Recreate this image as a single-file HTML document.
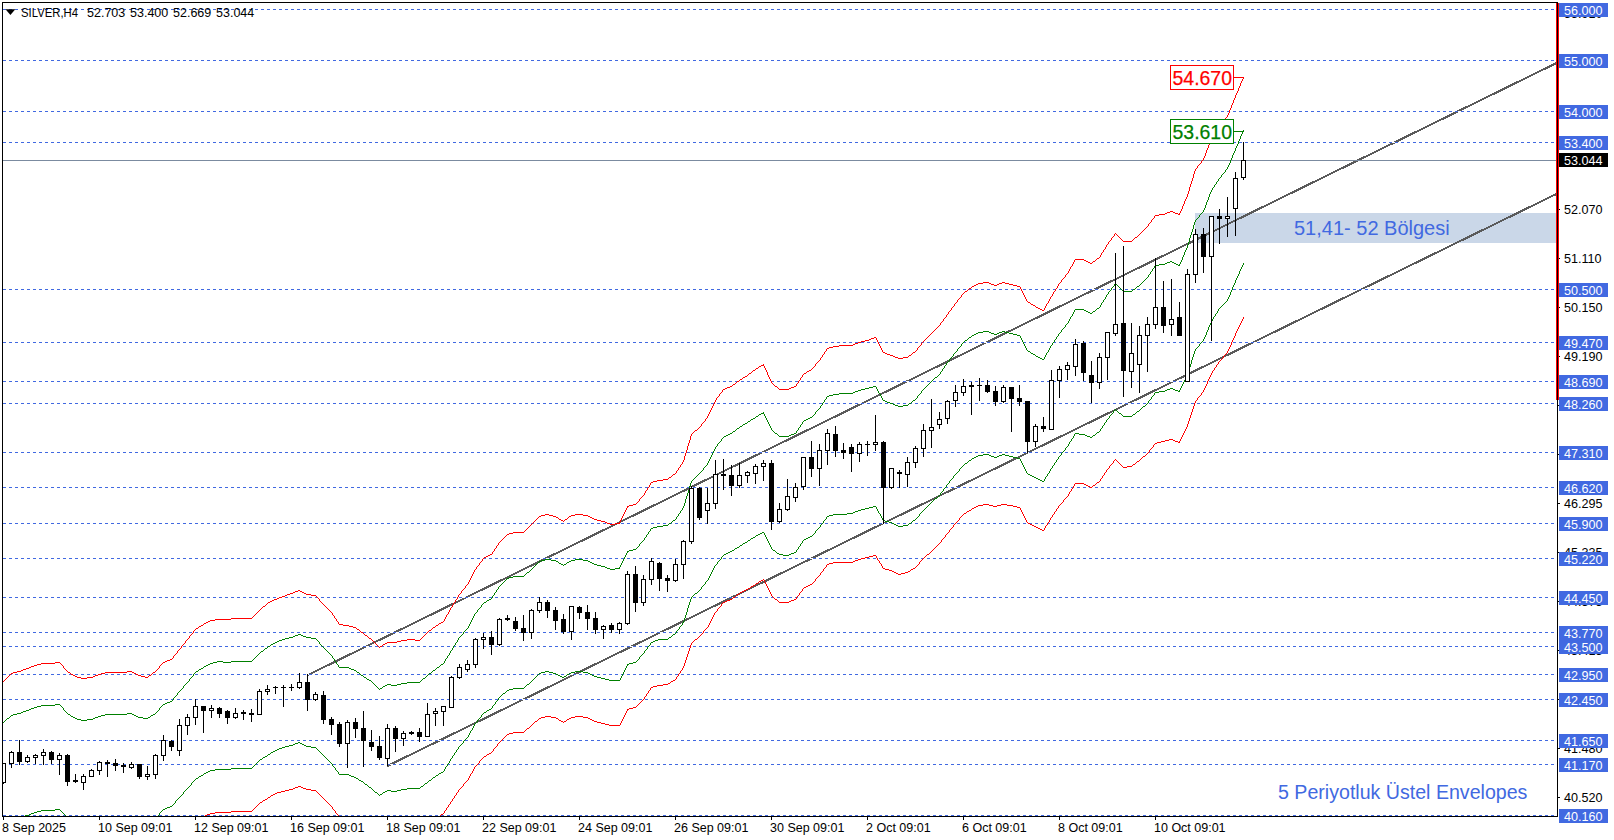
<!DOCTYPE html><html><head><meta charset="utf-8"><style>html,body{margin:0;padding:0;background:#fff;width:1614px;height:840px;overflow:hidden}svg{display:block}text{font-family:'Liberation Sans', sans-serif}</style></head><body>
<svg width="1614" height="840" viewBox="0 0 1614 840">
<defs><clipPath id="cl"><rect x="3" y="3" width="1554" height="813"/></clipPath></defs>
<rect x="0" y="0" width="1614" height="840" fill="#fff"/>
<g clip-path="url(#cl)">
<rect x="1195" y="213" width="362" height="30" fill="#cad7e8"/>
<line x1="307.9" y1="675" x2="1560" y2="61.3" stroke="#5a5a5a" stroke-width="2" shape-rendering="crispEdges"/>
<line x1="387.1" y1="766.1" x2="1560" y2="192.2" stroke="#5a5a5a" stroke-width="2" shape-rendering="crispEdges"/>
<g fill="none" stroke="#fff" stroke-width="1" shape-rendering="crispEdges">
<line x1="3" y1="9.5" x2="1557" y2="9.5"/>
<line x1="3" y1="60.5" x2="1557" y2="60.5"/>
<line x1="3" y1="111.5" x2="1557" y2="111.5"/>
<line x1="3" y1="142.5" x2="1557" y2="142.5"/>
<line x1="3" y1="289.5" x2="1557" y2="289.5"/>
<line x1="3" y1="342.5" x2="1557" y2="342.5"/>
<line x1="3" y1="381.5" x2="1557" y2="381.5"/>
<line x1="3" y1="403.5" x2="1557" y2="403.5"/>
<line x1="3" y1="452.5" x2="1557" y2="452.5"/>
<line x1="3" y1="487.5" x2="1557" y2="487.5"/>
<line x1="3" y1="523.5" x2="1557" y2="523.5"/>
<line x1="3" y1="558.5" x2="1557" y2="558.5"/>
<line x1="3" y1="597.5" x2="1557" y2="597.5"/>
<line x1="3" y1="632.5" x2="1557" y2="632.5"/>
<line x1="3" y1="646.5" x2="1557" y2="646.5"/>
<line x1="3" y1="674.5" x2="1557" y2="674.5"/>
<line x1="3" y1="699.5" x2="1557" y2="699.5"/>
<line x1="3" y1="740.5" x2="1557" y2="740.5"/>
<line x1="3" y1="764.5" x2="1557" y2="764.5"/>
<line x1="3" y1="815.5" x2="1557" y2="815.5"/>
</g>
<g fill="none" stroke="#4169e1" stroke-width="1" stroke-dasharray="3 3" shape-rendering="crispEdges">
<line x1="3" y1="9.5" x2="1557" y2="9.5"/>
<line x1="3" y1="60.5" x2="1557" y2="60.5"/>
<line x1="3" y1="111.5" x2="1557" y2="111.5"/>
<line x1="3" y1="142.5" x2="1557" y2="142.5"/>
<line x1="3" y1="289.5" x2="1557" y2="289.5"/>
<line x1="3" y1="342.5" x2="1557" y2="342.5"/>
<line x1="3" y1="381.5" x2="1557" y2="381.5"/>
<line x1="3" y1="403.5" x2="1557" y2="403.5"/>
<line x1="3" y1="452.5" x2="1557" y2="452.5"/>
<line x1="3" y1="487.5" x2="1557" y2="487.5"/>
<line x1="3" y1="523.5" x2="1557" y2="523.5"/>
<line x1="3" y1="558.5" x2="1557" y2="558.5"/>
<line x1="3" y1="597.5" x2="1557" y2="597.5"/>
<line x1="3" y1="632.5" x2="1557" y2="632.5"/>
<line x1="3" y1="646.5" x2="1557" y2="646.5"/>
<line x1="3" y1="674.5" x2="1557" y2="674.5"/>
<line x1="3" y1="699.5" x2="1557" y2="699.5"/>
<line x1="3" y1="740.5" x2="1557" y2="740.5"/>
<line x1="3" y1="764.5" x2="1557" y2="764.5"/>
<line x1="3" y1="815.5" x2="1557" y2="815.5"/>
</g>
<line x1="3" y1="160.5" x2="1557" y2="160.5" stroke="#7b8ba0" stroke-width="1" shape-rendering="crispEdges"/>
<path d="M3 681h1v1h-1zM4 680h1v1h-1zM5 679h1v1h-1zM6 678h1v1h-1zM7 677h1v1h-1zM8 676h1v1h-1zM9 675h1v1h-1zM10 674h1v1h-1zM11 673h2v1h-2zM13 672h4v1h-4zM17 671h4v1h-4zM21 670h2v1h-2zM23 669h3v1h-3zM26 668h3v1h-3zM29 667h2v1h-2zM31 666h3v1h-3zM34 665h3v1h-3zM37 664h4v1h-4zM41 663h14v1h-14zM55 662h5v1h-5zM60 663h1v1h-1zM61 664h1v1h-1zM62 665h1v1h-1zM63 666h1v2h-1zM64 668h1v1h-1zM65 669h1v1h-1zM66 670h1v1h-1zM67 671h1v1h-1zM68 672h2v1h-2zM70 673h1v1h-1zM71 674h2v1h-2zM73 675h2v1h-2zM75 676h2v1h-2zM77 677h4v1h-4zM81 678h6v1h-6zM87 677h6v1h-6zM93 676h2v1h-2zM95 675h3v1h-3zM98 674h3v1h-3zM101 673h4v1h-4zM105 672h22v1h-22zM127 671h5v1h-5zM132 672h2v1h-2zM134 673h2v1h-2zM136 674h2v1h-2zM138 675h3v1h-3zM141 676h4v1h-4zM145 677h3v1h-3zM148 676h1v1h-1zM149 675h2v1h-2zM151 674h1v1h-1zM152 673h1v1h-1zM153 672h2v1h-2zM155 671h1v1h-1zM156 670h1v1h-1zM157 669h1v1h-1zM158 668h1v1h-1zM159 666h1v2h-1zM160 665h1v1h-1zM161 664h1v1h-1zM162 663h1v1h-1zM163 662h2v1h-2zM165 661h2v1h-2zM167 660h3v1h-3zM170 659h2v1h-2zM172 658h1v1h-1zM173 656h1v2h-1zM174 655h1v1h-1zM175 654h1v1h-1zM176 653h1v1h-1zM177 651h1v2h-1zM178 650h1v1h-1zM179 649h1v1h-1zM180 648h1v1h-1zM181 646h1v2h-1zM182 645h1v1h-1zM183 644h1v1h-1zM184 643h1v1h-1zM185 641h1v2h-1zM186 640h1v1h-1zM187 639h1v1h-1zM188 638h1v1h-1zM189 636h1v2h-1zM190 635h1v1h-1zM191 634h1v1h-1zM192 633h1v1h-1zM193 631h1v2h-1zM194 630h1v1h-1zM195 629h1v1h-1zM196 628h2v1h-2zM198 627h1v1h-1zM199 626h2v1h-2zM201 625h2v1h-2zM203 624h1v1h-1zM204 623h2v1h-2zM206 622h2v1h-2zM208 621h2v1h-2zM210 620h5v1h-5zM215 619h16v1h-16zM231 618h21v1h-21zM252 617h1v1h-1zM253 616h1v1h-1zM254 615h1v1h-1zM255 614h1v1h-1zM256 613h1v1h-1zM257 612h1v1h-1zM258 611h1v1h-1zM259 610h1v1h-1zM260 609h1v1h-1zM261 608h1v1h-1zM262 607h1v1h-1zM263 606h2v1h-2zM265 605h1v1h-1zM266 604h1v1h-1zM267 603h1v1h-1zM268 602h2v1h-2zM270 601h2v1h-2zM272 600h2v1h-2zM274 599h3v1h-3zM277 598h2v1h-2zM279 597h3v1h-3zM282 596h3v1h-3zM285 595h2v1h-2zM287 594h3v1h-3zM290 593h3v1h-3zM293 592h2v1h-2zM295 591h3v1h-3zM298 590h2v1h-2zM300 591h2v1h-2zM302 592h2v1h-2zM304 593h2v1h-2zM306 594h5v1h-5zM311 595h5v1h-5zM316 596h1v1h-1zM317 597h1v1h-1zM318 598h1v1h-1zM319 599h1v2h-1zM320 601h1v1h-1zM321 602h1v1h-1zM322 603h1v1h-1zM323 604h1v1h-1zM324 605h1v1h-1zM325 606h1v1h-1zM326 607h1v1h-1zM327 608h1v1h-1zM328 609h1v1h-1zM329 610h1v1h-1zM330 611h1v1h-1zM331 612h1v1h-1zM332 613h1v2h-1zM333 615h1v1h-1zM334 616h1v2h-1zM335 618h1v1h-1zM336 619h1v2h-1zM337 621h1v1h-1zM338 622h1v2h-1zM339 624h4v1h-4zM343 625h6v1h-6zM349 626h4v1h-4zM353 627h3v1h-3zM356 628h1v1h-1zM357 629h2v1h-2zM359 630h1v1h-1zM360 631h1v1h-1zM361 632h2v1h-2zM363 633h1v1h-1zM364 634h1v1h-1zM365 635h2v1h-2zM367 636h1v1h-1zM368 637h1v1h-1zM369 638h2v1h-2zM371 639h1v1h-1zM372 640h1v1h-1zM373 641h1v1h-1zM374 642h1v1h-1zM375 643h1v1h-1zM376 644h1v1h-1zM377 645h1v1h-1zM378 646h1v1h-1zM379 647h1v1h-1zM380 646h2v1h-2zM382 645h1v1h-1zM383 644h2v1h-2zM385 643h2v1h-2zM387 642h10v1h-10zM397 641h4v1h-4zM401 640h6v1h-6zM407 639h8v1h-8zM415 640h5v1h-5zM420 639h1v1h-1zM421 638h1v1h-1zM422 637h1v1h-1zM423 636h1v1h-1zM424 635h1v1h-1zM425 634h1v1h-1zM426 633h1v1h-1zM427 632h1v1h-1zM428 631h1v1h-1zM429 630h2v1h-2zM431 629h1v1h-1zM432 628h1v1h-1zM433 627h2v1h-2zM435 626h1v1h-1zM436 625h2v1h-2zM438 624h1v1h-1zM439 623h2v1h-2zM441 622h2v1h-2zM443 621h1v1h-1zM444 619h1v2h-1zM445 617h1v2h-1zM446 615h1v2h-1zM447 614h1v1h-1zM448 612h1v2h-1zM449 610h1v2h-1zM450 608h1v2h-1zM451 607h1v1h-1zM452 605h1v2h-1zM453 603h1v2h-1zM454 602h1v1h-1zM455 600h1v2h-1zM456 599h1v1h-1zM457 597h1v2h-1zM458 595h1v2h-1zM459 594h1v1h-1zM460 593h1v1h-1zM461 591h1v2h-1zM462 590h1v1h-1zM463 589h1v1h-1zM464 588h1v1h-1zM465 586h1v2h-1zM466 585h1v1h-1zM467 584h1v1h-1zM468 582h1v2h-1zM469 580h1v2h-1zM470 578h1v2h-1zM471 576h1v2h-1zM472 574h1v2h-1zM473 572h1v2h-1zM474 570h1v2h-1zM475 569h1v1h-1zM476 567h1v2h-1zM477 566h1v1h-1zM478 565h1v1h-1zM479 563h1v2h-1zM480 562h1v1h-1zM481 561h1v1h-1zM482 559h1v2h-1zM483 558h1v1h-1zM484 557h2v1h-2zM486 556h2v1h-2zM488 555h2v1h-2zM490 554h2v1h-2zM492 552h1v2h-1zM493 551h1v1h-1zM494 549h1v2h-1zM495 548h1v1h-1zM496 546h1v2h-1zM497 545h1v1h-1zM498 543h1v2h-1zM499 542h1v1h-1zM500 541h1v1h-1zM501 540h1v1h-1zM502 539h1v1h-1zM503 538h1v1h-1zM504 537h1v1h-1zM505 536h1v1h-1zM506 535h1v1h-1zM507 534h2v1h-2zM509 533h4v1h-4zM513 532h11v1h-11zM524 531h1v1h-1zM525 530h1v1h-1zM526 529h1v1h-1zM527 528h1v1h-1zM528 527h1v1h-1zM529 526h1v1h-1zM530 525h1v1h-1zM531 524h1v1h-1zM532 523h1v1h-1zM533 522h1v1h-1zM534 521h1v1h-1zM535 520h1v1h-1zM536 519h1v1h-1zM537 518h1v1h-1zM538 517h1v1h-1zM539 516h2v1h-2zM541 515h4v1h-4zM545 514h4v1h-4zM549 515h4v1h-4zM553 516h3v1h-3zM556 517h2v1h-2zM558 518h1v1h-1zM559 519h2v1h-2zM561 520h2v1h-2zM563 521h1v1h-1zM564 520h1v1h-1zM565 519h2v1h-2zM567 518h1v1h-1zM568 517h1v1h-1zM569 516h2v1h-2zM571 515h4v1h-4zM575 514h8v1h-8zM583 515h5v1h-5zM588 516h2v1h-2zM590 517h2v1h-2zM592 518h2v1h-2zM594 519h3v1h-3zM597 520h4v1h-4zM601 521h4v1h-4zM605 522h2v1h-2zM607 523h3v1h-3zM610 524h5v1h-5zM615 523h4v1h-4zM619 522h1v2h-1zM620 520h1v2h-1zM621 518h1v2h-1zM622 516h1v2h-1zM623 514h1v2h-1zM624 512h1v2h-1zM625 510h1v2h-1zM626 508h1v2h-1zM627 506h1v2h-1zM628 506h1v1h-1zM629 505h4v1h-4zM633 504h3v1h-3zM636 503h1v1h-1zM637 502h1v1h-1zM638 501h1v1h-1zM639 499h1v2h-1zM640 498h1v1h-1zM641 497h1v1h-1zM642 496h1v1h-1zM643 495h1v1h-1zM644 493h1v2h-1zM645 491h1v2h-1zM646 490h1v1h-1zM647 488h1v2h-1zM648 487h1v1h-1zM649 485h1v2h-1zM650 483h1v2h-1zM651 482h2v1h-2zM653 481h4v1h-4zM657 480h6v1h-6zM663 479h5v1h-5zM668 478h1v1h-1zM669 477h2v1h-2zM671 476h1v1h-1zM672 475h1v1h-1zM673 474h2v1h-2zM675 473h1v1h-1zM676 471h1v2h-1zM677 470h1v1h-1zM678 468h1v2h-1zM679 467h1v1h-1zM680 465h1v2h-1zM681 464h1v1h-1zM682 462h1v2h-1zM683 460h1v2h-1zM684 456h1v4h-1zM685 453h1v3h-1zM686 450h1v3h-1zM687 446h1v4h-1zM688 443h1v3h-1zM689 440h1v3h-1zM690 436h1v4h-1zM691 434h1v2h-1zM692 433h1v1h-1zM693 432h1v1h-1zM694 431h1v1h-1zM695 430h2v1h-2zM697 429h1v1h-1zM698 428h1v1h-1zM699 427h1v1h-1zM700 426h1v1h-1zM701 424h1v2h-1zM702 423h1v1h-1zM703 422h1v1h-1zM704 421h1v1h-1zM705 419h1v2h-1zM706 418h1v1h-1zM707 416h1v2h-1zM708 414h1v2h-1zM709 412h1v2h-1zM710 410h1v2h-1zM711 408h1v2h-1zM712 406h1v2h-1zM713 404h1v2h-1zM714 402h1v2h-1zM715 400h1v2h-1zM716 398h1v2h-1zM717 397h1v1h-1zM718 396h1v1h-1zM719 394h1v2h-1zM720 393h1v1h-1zM721 392h1v1h-1zM722 390h1v2h-1zM723 389h2v1h-2zM725 388h2v1h-2zM727 387h3v1h-3zM730 386h2v1h-2zM732 385h1v1h-1zM733 384h2v1h-2zM735 383h1v1h-1zM736 382h1v1h-1zM737 381h2v1h-2zM739 380h1v1h-1zM740 379h2v1h-2zM742 378h1v1h-1zM743 377h2v1h-2zM745 376h2v1h-2zM747 375h1v1h-1zM748 374h1v1h-1zM749 373h2v1h-2zM751 372h1v1h-1zM752 371h1v1h-1zM753 370h2v1h-2zM755 369h1v1h-1zM756 368h2v1h-2zM758 367h1v1h-1zM759 366h2v1h-2zM761 365h2v1h-2zM763 364h1v2h-1zM764 366h1v2h-1zM765 368h1v2h-1zM766 370h1v2h-1zM767 372h1v3h-1zM768 375h1v2h-1zM769 377h1v2h-1zM770 379h1v2h-1zM771 381h1v2h-1zM772 383h1v1h-1zM773 384h1v1h-1zM774 385h1v1h-1zM775 386h2v1h-2zM777 387h1v1h-1zM778 388h1v1h-1zM779 389h10v1h-10zM789 388h2v1h-2zM791 387h3v1h-3zM794 386h2v1h-2zM796 384h1v2h-1zM797 383h1v1h-1zM798 381h1v2h-1zM799 380h1v1h-1zM800 378h1v2h-1zM801 377h1v1h-1zM802 375h1v2h-1zM803 374h1v1h-1zM804 373h2v1h-2zM806 372h1v1h-1zM807 371h2v1h-2zM809 370h2v1h-2zM811 369h1v1h-1zM812 368h1v1h-1zM813 367h1v1h-1zM814 366h1v1h-1zM815 364h1v2h-1zM816 363h1v1h-1zM817 362h1v1h-1zM818 361h1v1h-1zM819 360h1v1h-1zM820 358h1v2h-1zM821 357h1v1h-1zM822 355h1v2h-1zM823 354h1v1h-1zM824 352h1v2h-1zM825 351h1v1h-1zM826 349h1v2h-1zM827 348h2v1h-2zM829 347h4v1h-4zM833 346h6v1h-6zM839 345h14v1h-14zM853 344h2v1h-2zM855 343h3v1h-3zM858 342h3v1h-3zM861 341h4v1h-4zM865 340h4v1h-4zM869 339h2v1h-2zM871 338h3v1h-3zM874 337h2v1h-2zM876 338h1v2h-1zM877 340h1v2h-1zM878 342h1v2h-1zM879 344h1v2h-1zM880 346h1v2h-1zM881 348h1v2h-1zM882 350h1v2h-1zM883 352h2v1h-2zM885 353h2v1h-2zM887 354h3v1h-3zM890 355h3v1h-3zM893 356h2v1h-2zM895 357h3v1h-3zM898 358h5v1h-5zM903 357h5v1h-5zM908 356h1v1h-1zM909 355h2v1h-2zM911 354h1v1h-1zM912 353h1v1h-1zM913 352h2v1h-2zM915 351h1v1h-1zM916 350h1v1h-1zM917 348h1v2h-1zM918 347h1v1h-1zM919 346h1v1h-1zM920 345h1v1h-1zM921 343h1v2h-1zM922 342h1v1h-1zM923 341h1v1h-1zM924 340h1v1h-1zM925 339h1v1h-1zM926 338h1v1h-1zM927 337h1v1h-1zM928 336h1v1h-1zM929 335h1v1h-1zM930 334h1v1h-1zM931 333h1v1h-1zM932 332h1v1h-1zM933 331h1v1h-1zM934 330h1v1h-1zM935 329h1v1h-1zM936 328h1v1h-1zM937 327h1v1h-1zM938 326h1v1h-1zM939 325h1v1h-1zM940 323h1v2h-1zM941 322h1v1h-1zM942 321h1v1h-1zM943 319h1v2h-1zM944 318h1v1h-1zM945 317h1v1h-1zM946 315h1v2h-1zM947 314h1v1h-1zM948 312h1v2h-1zM949 311h1v1h-1zM950 310h1v1h-1zM951 308h1v2h-1zM952 307h1v1h-1zM953 306h1v1h-1zM954 304h1v2h-1zM955 303h1v1h-1zM956 302h1v1h-1zM957 300h1v2h-1zM958 299h1v1h-1zM959 298h1v1h-1zM960 297h1v1h-1zM961 295h1v2h-1zM962 294h1v1h-1zM963 293h1v1h-1zM964 292h1v1h-1zM965 291h2v1h-2zM967 290h1v1h-1zM968 289h1v1h-1zM969 288h2v1h-2zM971 287h1v1h-1zM972 286h2v1h-2zM974 285h2v1h-2zM976 284h2v1h-2zM978 283h5v1h-5zM983 282h6v1h-6zM989 283h2v1h-2zM991 284h3v1h-3zM994 285h3v1h-3zM997 284h2v1h-2zM999 283h3v1h-3zM1002 282h3v1h-3zM1005 283h4v1h-4zM1009 284h4v1h-4zM1013 285h4v1h-4zM1017 286h3v1h-3zM1020 287h1v2h-1zM1021 289h1v2h-1zM1022 291h1v2h-1zM1023 293h1v2h-1zM1024 295h1v2h-1zM1025 297h1v2h-1zM1026 299h1v2h-1zM1027 301h1v1h-1zM1028 302h2v1h-2zM1030 303h1v1h-1zM1031 304h2v1h-2zM1033 305h2v1h-2zM1035 306h1v1h-1zM1036 307h2v1h-2zM1038 308h2v1h-2zM1040 309h2v1h-2zM1042 310h2v1h-2zM1044 308h1v2h-1zM1045 306h1v2h-1zM1046 304h1v2h-1zM1047 303h1v1h-1zM1048 301h1v2h-1zM1049 299h1v2h-1zM1050 297h1v2h-1zM1051 296h1v1h-1zM1052 294h1v2h-1zM1053 292h1v2h-1zM1054 291h1v1h-1zM1055 289h1v2h-1zM1056 288h1v1h-1zM1057 286h1v2h-1zM1058 284h1v2h-1zM1059 283h1v1h-1zM1060 282h1v1h-1zM1061 280h1v2h-1zM1062 279h1v1h-1zM1063 278h1v1h-1zM1064 277h1v1h-1zM1065 275h1v2h-1zM1066 274h1v1h-1zM1067 273h1v1h-1zM1068 271h1v2h-1zM1069 269h1v2h-1zM1070 267h1v2h-1zM1071 266h1v1h-1zM1072 264h1v2h-1zM1073 262h1v2h-1zM1074 260h1v2h-1zM1075 259h9v1h-9zM1084 260h2v1h-2zM1086 261h2v1h-2zM1088 262h2v1h-2zM1090 263h2v1h-2zM1092 262h1v1h-1zM1093 261h2v1h-2zM1095 260h1v1h-1zM1096 259h1v1h-1zM1097 258h2v1h-2zM1099 257h1v1h-1zM1100 255h1v2h-1zM1101 253h1v2h-1zM1102 252h1v1h-1zM1103 250h1v2h-1zM1104 249h1v1h-1zM1105 247h1v2h-1zM1106 245h1v2h-1zM1107 244h1v1h-1zM1108 242h1v2h-1zM1109 241h1v1h-1zM1110 240h1v1h-1zM1111 238h1v2h-1zM1112 237h1v1h-1zM1113 236h1v1h-1zM1114 234h1v2h-1zM1115 233h1v1h-1zM1116 234h1v1h-1zM1117 235h1v1h-1zM1118 236h1v1h-1zM1119 237h1v1h-1zM1120 238h1v1h-1zM1121 239h1v1h-1zM1122 240h1v1h-1zM1123 241h9v1h-9zM1132 240h1v1h-1zM1133 239h1v1h-1zM1134 238h1v1h-1zM1135 237h2v1h-2zM1137 236h1v1h-1zM1138 235h1v1h-1zM1139 234h1v1h-1zM1140 233h1v1h-1zM1141 232h1v1h-1zM1142 231h1v1h-1zM1143 230h1v1h-1zM1144 229h1v1h-1zM1145 228h1v1h-1zM1146 227h1v1h-1zM1147 226h1v1h-1zM1148 224h1v2h-1zM1149 223h1v1h-1zM1150 222h1v1h-1zM1151 220h1v2h-1zM1152 219h1v1h-1zM1153 218h1v1h-1zM1154 216h1v2h-1zM1155 215h4v1h-4zM1159 214h6v1h-6zM1165 213h2v1h-2zM1167 212h3v1h-3zM1170 211h3v1h-3zM1173 212h2v1h-2zM1175 213h3v1h-3zM1178 214h1v1h-1zM1179 213h1v2h-1zM1180 211h1v2h-1zM1181 209h1v2h-1zM1182 206h1v3h-1zM1183 204h1v2h-1zM1184 201h1v3h-1zM1185 199h1v2h-1zM1186 197h1v2h-1zM1187 194h1v3h-1zM1188 191h1v3h-1zM1189 187h1v4h-1zM1190 184h1v3h-1zM1191 181h1v3h-1zM1192 178h1v3h-1zM1193 174h1v4h-1zM1194 171h1v3h-1zM1195 169h1v2h-1zM1196 168h1v1h-1zM1197 166h1v2h-1zM1198 165h1v1h-1zM1199 164h1v1h-1zM1200 163h1v1h-1zM1201 161h1v2h-1zM1202 160h1v1h-1zM1203 158h1v2h-1zM1204 156h1v2h-1zM1205 153h1v3h-1zM1206 150h1v3h-1zM1207 148h1v2h-1zM1208 145h1v3h-1zM1209 142h1v3h-1zM1210 140h1v2h-1zM1211 138h1v2h-1zM1212 136h1v2h-1zM1213 134h1v2h-1zM1214 133h1v1h-1zM1215 131h1v2h-1zM1216 130h1v1h-1zM1217 128h1v2h-1zM1218 126h1v2h-1zM1219 125h1v1h-1zM1220 124h1v1h-1zM1221 123h1v1h-1zM1222 122h1v1h-1zM1223 120h1v2h-1zM1224 119h1v1h-1zM1225 118h1v1h-1zM1226 117h1v1h-1zM1227 115h1v2h-1zM1228 113h1v2h-1zM1229 110h1v3h-1zM1230 108h1v2h-1zM1231 105h1v3h-1zM1232 103h1v2h-1zM1233 100h1v3h-1zM1234 98h1v2h-1zM1235 95h1v3h-1zM1236 93h1v2h-1zM1237 91h1v2h-1zM1238 88h1v3h-1zM1239 86h1v2h-1zM1240 83h1v3h-1zM1241 81h1v2h-1zM1242 79h1v2h-1zM1243 77h1v2h-1z" fill="#ff0000" shape-rendering="crispEdges"/>
<path d="M205 815h2v1h-2zM207 814h3v1h-3zM210 813h5v1h-5zM215 812h16v1h-16zM231 811h21v1h-21zM252 810h1v1h-1zM253 809h1v1h-1zM254 808h1v1h-1zM255 807h1v1h-1zM256 806h1v1h-1zM257 805h1v1h-1zM258 804h1v1h-1zM259 803h1v1h-1zM260 802h2v1h-2zM262 801h1v1h-1zM263 800h2v1h-2zM265 799h2v1h-2zM267 798h1v1h-1zM268 797h2v1h-2zM270 796h1v1h-1zM271 795h2v1h-2zM273 794h2v1h-2zM275 793h2v1h-2zM277 792h4v1h-4zM281 791h4v1h-4zM285 790h4v1h-4zM289 789h4v1h-4zM293 788h2v1h-2zM295 787h3v1h-3zM298 786h3v1h-3zM301 787h2v1h-2zM303 788h3v1h-3zM306 789h5v1h-5zM311 790h5v1h-5zM316 791h1v1h-1zM317 792h1v1h-1zM318 793h1v1h-1zM319 794h1v1h-1zM320 795h1v1h-1zM321 796h1v1h-1zM322 797h1v1h-1zM323 798h1v1h-1zM324 799h1v1h-1zM325 800h1v1h-1zM326 801h1v1h-1zM327 802h1v1h-1zM328 803h1v1h-1zM329 804h1v1h-1zM330 805h1v1h-1zM331 806h1v1h-1zM332 807h1v2h-1zM333 809h1v1h-1zM334 810h1v1h-1zM335 811h1v2h-1zM336 813h1v1h-1zM337 814h1v1h-1zM338 815h1v1h-1zM440 815h1v1h-1zM441 814h2v1h-2zM443 813h1v1h-1zM444 811h1v2h-1zM445 810h1v1h-1zM446 808h1v2h-1zM447 807h1v1h-1zM448 805h1v2h-1zM449 804h1v1h-1zM450 802h1v2h-1zM451 801h1v1h-1zM452 799h1v2h-1zM453 798h1v1h-1zM454 796h1v2h-1zM455 795h1v1h-1zM456 793h1v2h-1zM457 792h1v1h-1zM458 790h1v2h-1zM459 789h1v1h-1zM460 788h1v1h-1zM461 787h1v1h-1zM462 786h1v1h-1zM463 784h1v2h-1zM464 783h1v1h-1zM465 782h1v1h-1zM466 781h1v1h-1zM467 780h1v1h-1zM468 778h1v2h-1zM469 776h1v2h-1zM470 774h1v2h-1zM471 773h1v1h-1zM472 771h1v2h-1zM473 769h1v2h-1zM474 767h1v2h-1zM475 766h1v1h-1zM476 765h1v1h-1zM477 764h1v1h-1zM478 763h1v1h-1zM479 761h1v2h-1zM480 760h1v1h-1zM481 759h1v1h-1zM482 758h1v1h-1zM483 757h1v1h-1zM484 756h2v1h-2zM486 755h1v1h-1zM487 754h2v1h-2zM489 753h2v1h-2zM491 752h1v1h-1zM492 751h1v1h-1zM493 749h1v2h-1zM494 748h1v1h-1zM495 747h1v1h-1zM496 746h1v1h-1zM497 744h1v2h-1zM498 743h1v1h-1zM499 742h1v1h-1zM500 741h1v1h-1zM501 740h1v1h-1zM502 739h1v1h-1zM503 738h1v1h-1zM504 737h1v1h-1zM505 736h1v1h-1zM506 735h1v1h-1zM507 734h2v1h-2zM509 733h4v1h-4zM513 732h11v1h-11zM524 731h1v1h-1zM525 730h1v1h-1zM526 729h1v1h-1zM527 728h2v1h-2zM529 727h1v1h-1zM530 726h1v1h-1zM531 725h1v1h-1zM532 724h1v1h-1zM533 723h1v1h-1zM534 722h1v1h-1zM535 721h2v1h-2zM537 720h1v1h-1zM538 719h1v1h-1zM539 718h2v1h-2zM541 717h4v1h-4zM545 716h6v1h-6zM551 717h5v1h-5zM556 718h2v1h-2zM558 719h1v1h-1zM559 720h2v1h-2zM561 721h2v1h-2zM563 722h1v1h-1zM564 721h2v1h-2zM566 720h1v1h-1zM567 719h2v1h-2zM569 718h2v1h-2zM571 717h4v1h-4zM575 716h8v1h-8zM583 717h5v1h-5zM588 718h2v1h-2zM590 719h2v1h-2zM592 720h2v1h-2zM594 721h3v1h-3zM597 722h4v1h-4zM601 723h4v1h-4zM605 724h4v1h-4zM609 725h11v1h-11zM620 723h1v2h-1zM621 721h1v2h-1zM622 719h1v2h-1zM623 717h1v2h-1zM624 715h1v2h-1zM625 713h1v2h-1zM626 711h1v2h-1zM627 709h1v2h-1zM628 709h1v1h-1zM629 708h4v1h-4zM633 707h3v1h-3zM636 706h1v1h-1zM637 705h1v1h-1zM638 704h1v1h-1zM639 703h1v1h-1zM640 702h1v1h-1zM641 701h1v1h-1zM642 700h1v1h-1zM643 699h1v1h-1zM644 697h1v2h-1zM645 696h1v1h-1zM646 694h1v2h-1zM647 693h1v1h-1zM648 691h1v2h-1zM649 690h1v1h-1zM650 688h1v2h-1zM651 687h2v1h-2zM653 686h4v1h-4zM657 685h6v1h-6zM663 684h5v1h-5zM668 683h2v1h-2zM670 682h1v1h-1zM671 681h2v1h-2zM673 680h2v1h-2zM675 679h1v1h-1zM676 677h1v2h-1zM677 676h1v1h-1zM678 674h1v2h-1zM679 673h1v1h-1zM680 671h1v2h-1zM681 670h1v1h-1zM682 668h1v2h-1zM683 666h1v2h-1zM684 663h1v3h-1zM685 660h1v3h-1zM686 657h1v3h-1zM687 654h1v3h-1zM688 651h1v3h-1zM689 648h1v3h-1zM690 645h1v3h-1zM691 643h1v2h-1zM692 642h1v1h-1zM693 641h1v1h-1zM694 640h1v1h-1zM695 639h2v1h-2zM697 638h1v1h-1zM698 637h1v1h-1zM699 636h1v1h-1zM700 635h1v1h-1zM701 634h1v1h-1zM702 633h1v1h-1zM703 631h1v2h-1zM704 630h1v1h-1zM705 629h1v1h-1zM706 628h1v1h-1zM707 627h1v1h-1zM708 625h1v2h-1zM709 623h1v2h-1zM710 621h1v2h-1zM711 619h1v2h-1zM712 617h1v2h-1zM713 615h1v2h-1zM714 613h1v2h-1zM715 612h1v1h-1zM716 611h1v1h-1zM717 609h1v2h-1zM718 608h1v1h-1zM719 607h1v1h-1zM720 606h1v1h-1zM721 604h1v2h-1zM722 603h1v1h-1zM723 602h2v1h-2zM725 601h2v1h-2zM727 600h3v1h-3zM730 599h2v1h-2zM732 598h1v1h-1zM733 597h2v1h-2zM735 596h1v1h-1zM736 595h1v1h-1zM737 594h2v1h-2zM739 593h1v1h-1zM740 592h2v1h-2zM742 591h2v1h-2zM744 590h2v1h-2zM746 589h2v1h-2zM748 588h2v1h-2zM750 587h1v1h-1zM751 586h2v1h-2zM753 585h2v1h-2zM755 584h1v1h-1zM756 583h2v1h-2zM758 582h1v1h-1zM759 581h2v1h-2zM761 580h2v1h-2zM763 579h1v1h-1zM764 580h1v2h-1zM765 582h1v2h-1zM766 584h1v2h-1zM767 586h1v2h-1zM768 588h1v2h-1zM769 590h1v2h-1zM770 592h1v2h-1zM771 594h1v2h-1zM772 596h1v1h-1zM773 597h1v1h-1zM774 598h1v1h-1zM775 599h2v1h-2zM777 600h1v1h-1zM778 601h1v1h-1zM779 602h10v1h-10zM789 601h2v1h-2zM791 600h3v1h-3zM794 599h2v1h-2zM796 597h1v2h-1zM797 596h1v1h-1zM798 595h1v1h-1zM799 593h1v2h-1zM800 592h1v1h-1zM801 591h1v1h-1zM802 589h1v2h-1zM803 588h1v1h-1zM804 587h2v1h-2zM806 586h2v1h-2zM808 585h2v1h-2zM810 584h2v1h-2zM812 583h1v1h-1zM813 582h1v1h-1zM814 581h1v1h-1zM815 579h1v2h-1zM816 578h1v1h-1zM817 577h1v1h-1zM818 576h1v1h-1zM819 575h1v1h-1zM820 573h1v2h-1zM821 572h1v1h-1zM822 571h1v1h-1zM823 569h1v2h-1zM824 568h1v1h-1zM825 567h1v1h-1zM826 565h1v2h-1zM827 564h2v1h-2zM829 563h4v1h-4zM833 562h20v1h-20zM853 561h2v1h-2zM855 560h3v1h-3zM858 559h3v1h-3zM861 558h4v1h-4zM865 557h4v1h-4zM869 556h4v1h-4zM873 555h3v1h-3zM876 556h1v2h-1zM877 558h1v2h-1zM878 560h1v1h-1zM879 561h1v2h-1zM880 563h1v1h-1zM881 564h1v2h-1zM882 566h1v2h-1zM883 568h2v1h-2zM885 569h4v1h-4zM889 570h3v1h-3zM892 571h2v1h-2zM894 572h2v1h-2zM896 573h2v1h-2zM898 574h3v1h-3zM901 573h4v1h-4zM905 572h3v1h-3zM908 571h2v1h-2zM910 570h1v1h-1zM911 569h2v1h-2zM913 568h2v1h-2zM915 567h1v1h-1zM916 566h1v1h-1zM917 565h1v1h-1zM918 564h1v1h-1zM919 562h1v2h-1zM920 561h1v1h-1zM921 560h1v1h-1zM922 559h1v1h-1zM923 558h1v1h-1zM924 557h1v1h-1zM925 556h1v1h-1zM926 555h1v1h-1zM927 554h2v1h-2zM929 553h1v1h-1zM930 552h1v1h-1zM931 551h1v1h-1zM932 550h1v1h-1zM933 549h1v1h-1zM934 548h1v1h-1zM935 547h1v1h-1zM936 546h1v1h-1zM937 545h1v1h-1zM938 544h1v1h-1zM939 543h1v1h-1zM940 542h1v1h-1zM941 540h1v2h-1zM942 539h1v1h-1zM943 538h1v1h-1zM944 537h1v1h-1zM945 535h1v2h-1zM946 534h1v1h-1zM947 533h1v1h-1zM948 532h1v1h-1zM949 530h1v2h-1zM950 529h1v1h-1zM951 528h1v1h-1zM952 527h1v1h-1zM953 525h1v2h-1zM954 524h1v1h-1zM955 523h1v1h-1zM956 522h1v1h-1zM957 521h1v1h-1zM958 520h1v1h-1zM959 518h1v2h-1zM960 517h1v1h-1zM961 516h1v1h-1zM962 515h1v1h-1zM963 514h1v1h-1zM964 513h2v1h-2zM966 512h1v1h-1zM967 511h2v1h-2zM969 510h2v1h-2zM971 509h1v1h-1zM972 508h2v1h-2zM974 507h2v1h-2zM976 506h2v1h-2zM978 505h5v1h-5zM983 504h6v1h-6zM989 505h4v1h-4zM993 506h4v1h-4zM997 505h4v1h-4zM1001 504h6v1h-6zM1007 505h6v1h-6zM1013 506h4v1h-4zM1017 507h3v1h-3zM1020 508h1v2h-1zM1021 510h1v2h-1zM1022 512h1v2h-1zM1023 514h1v2h-1zM1024 516h1v2h-1zM1025 518h1v2h-1zM1026 520h1v2h-1zM1027 522h1v1h-1zM1028 523h2v1h-2zM1030 524h2v1h-2zM1032 525h2v1h-2zM1034 526h2v1h-2zM1036 527h2v1h-2zM1038 528h2v1h-2zM1040 529h2v1h-2zM1042 530h2v1h-2zM1044 528h1v2h-1zM1045 526h1v2h-1zM1046 525h1v1h-1zM1047 523h1v2h-1zM1048 522h1v1h-1zM1049 520h1v2h-1zM1050 518h1v2h-1zM1051 517h1v1h-1zM1052 515h1v2h-1zM1053 514h1v1h-1zM1054 512h1v2h-1zM1055 511h1v1h-1zM1056 509h1v2h-1zM1057 508h1v1h-1zM1058 506h1v2h-1zM1059 505h1v1h-1zM1060 504h1v1h-1zM1061 503h1v1h-1zM1062 502h1v1h-1zM1063 500h1v2h-1zM1064 499h1v1h-1zM1065 498h1v1h-1zM1066 497h1v1h-1zM1067 496h1v1h-1zM1068 494h1v2h-1zM1069 492h1v2h-1zM1070 491h1v1h-1zM1071 489h1v2h-1zM1072 488h1v1h-1zM1073 486h1v2h-1zM1074 484h1v2h-1zM1075 483h9v1h-9zM1084 484h2v1h-2zM1086 485h2v1h-2zM1088 486h2v1h-2zM1090 487h2v1h-2zM1092 486h1v1h-1zM1093 485h2v1h-2zM1095 484h1v1h-1zM1096 483h1v1h-1zM1097 482h2v1h-2zM1099 481h1v1h-1zM1100 479h1v2h-1zM1101 478h1v1h-1zM1102 476h1v2h-1zM1103 475h1v1h-1zM1104 473h1v2h-1zM1105 472h1v1h-1zM1106 470h1v2h-1zM1107 469h1v1h-1zM1108 468h1v1h-1zM1109 466h1v2h-1zM1110 465h1v1h-1zM1111 464h1v1h-1zM1112 463h1v1h-1zM1113 461h1v2h-1zM1114 460h1v1h-1zM1115 459h1v1h-1zM1116 460h1v1h-1zM1117 461h1v1h-1zM1118 462h1v1h-1zM1119 463h1v1h-1zM1120 464h1v1h-1zM1121 465h1v1h-1zM1122 466h1v1h-1zM1123 467h4v1h-4zM1127 466h5v1h-5zM1132 465h1v1h-1zM1133 464h2v1h-2zM1135 463h1v1h-1zM1136 462h1v1h-1zM1137 461h2v1h-2zM1139 460h1v1h-1zM1140 459h1v1h-1zM1141 458h1v1h-1zM1142 457h1v1h-1zM1143 456h2v1h-2zM1145 455h1v1h-1zM1146 454h1v1h-1zM1147 453h1v1h-1zM1148 452h1v1h-1zM1149 450h1v2h-1zM1150 449h1v1h-1zM1151 448h1v1h-1zM1152 447h1v1h-1zM1153 445h1v2h-1zM1154 444h1v1h-1zM1155 443h2v1h-2zM1157 442h4v1h-4zM1161 441h4v1h-4zM1165 440h4v1h-4zM1169 439h4v1h-4zM1173 440h2v1h-2zM1175 441h3v1h-3zM1178 442h1v1h-1zM1179 441h1v2h-1zM1180 439h1v2h-1zM1181 437h1v2h-1zM1182 435h1v2h-1zM1183 433h1v2h-1zM1184 431h1v2h-1zM1185 429h1v2h-1zM1186 427h1v2h-1zM1187 424h1v3h-1zM1188 421h1v3h-1zM1189 418h1v3h-1zM1190 415h1v3h-1zM1191 412h1v3h-1zM1192 409h1v3h-1zM1193 406h1v3h-1zM1194 403h1v3h-1zM1195 401h1v2h-1zM1196 400h1v1h-1zM1197 398h1v2h-1zM1198 397h1v1h-1zM1199 396h1v1h-1zM1200 395h1v1h-1zM1201 393h1v2h-1zM1202 392h1v1h-1zM1203 390h1v2h-1zM1204 388h1v2h-1zM1205 386h1v2h-1zM1206 384h1v2h-1zM1207 381h1v3h-1zM1208 379h1v2h-1zM1209 377h1v2h-1zM1210 375h1v2h-1zM1211 373h1v2h-1zM1212 371h1v2h-1zM1213 370h1v1h-1zM1214 368h1v2h-1zM1215 367h1v1h-1zM1216 365h1v2h-1zM1217 364h1v1h-1zM1218 362h1v2h-1zM1219 361h1v1h-1zM1220 360h1v1h-1zM1221 359h1v1h-1zM1222 358h1v1h-1zM1223 356h1v2h-1zM1224 355h1v1h-1zM1225 354h1v1h-1zM1226 353h1v1h-1zM1227 351h1v2h-1zM1228 349h1v2h-1zM1229 347h1v2h-1zM1230 345h1v2h-1zM1231 342h1v3h-1zM1232 340h1v2h-1zM1233 338h1v2h-1zM1234 336h1v2h-1zM1235 333h1v3h-1zM1236 331h1v2h-1zM1237 329h1v2h-1zM1238 327h1v2h-1zM1239 325h1v2h-1zM1240 323h1v2h-1zM1241 321h1v2h-1zM1242 319h1v2h-1zM1243 317h1v2h-1z" fill="#ff0000" shape-rendering="crispEdges"/>
<path d="M3 722h1v1h-1zM4 721h1v1h-1zM5 720h1v1h-1zM6 719h1v1h-1zM7 718h2v1h-2zM9 717h1v1h-1zM10 716h1v1h-1zM11 715h2v1h-2zM13 714h4v1h-4zM17 713h4v1h-4zM21 712h2v1h-2zM23 711h3v1h-3zM26 710h3v1h-3zM29 709h2v1h-2zM31 708h3v1h-3zM34 707h3v1h-3zM37 706h4v1h-4zM41 705h14v1h-14zM55 704h5v1h-5zM60 705h1v1h-1zM61 706h1v1h-1zM62 707h1v1h-1zM63 708h1v2h-1zM64 710h1v1h-1zM65 711h1v1h-1zM66 712h1v1h-1zM67 713h1v1h-1zM68 714h2v1h-2zM70 715h1v1h-1zM71 716h2v1h-2zM73 717h2v1h-2zM75 718h2v1h-2zM77 719h4v1h-4zM81 720h6v1h-6zM87 719h6v1h-6zM93 718h2v1h-2zM95 717h3v1h-3zM98 716h3v1h-3zM101 715h4v1h-4zM105 714h22v1h-22zM127 713h5v1h-5zM132 714h2v1h-2zM134 715h2v1h-2zM136 716h2v1h-2zM138 717h5v1h-5zM143 718h5v1h-5zM148 717h2v1h-2zM150 716h1v1h-1zM151 715h2v1h-2zM153 714h2v1h-2zM155 713h1v1h-1zM156 712h1v1h-1zM157 711h1v1h-1zM158 710h1v1h-1zM159 708h1v2h-1zM160 707h1v1h-1zM161 706h1v1h-1zM162 705h1v1h-1zM163 704h2v1h-2zM165 703h2v1h-2zM167 702h3v1h-3zM170 701h2v1h-2zM172 700h1v1h-1zM173 698h1v2h-1zM174 697h1v1h-1zM175 696h1v1h-1zM176 695h1v1h-1zM177 693h1v2h-1zM178 692h1v1h-1zM179 691h1v1h-1zM180 690h1v1h-1zM181 689h1v1h-1zM182 688h1v1h-1zM183 686h1v2h-1zM184 685h1v1h-1zM185 684h1v1h-1zM186 683h1v1h-1zM187 682h1v1h-1zM188 681h1v1h-1zM189 679h1v2h-1zM190 678h1v1h-1zM191 677h1v1h-1zM192 676h1v1h-1zM193 674h1v2h-1zM194 673h1v1h-1zM195 672h1v1h-1zM196 671h2v1h-2zM198 670h1v1h-1zM199 669h2v1h-2zM201 668h2v1h-2zM203 667h1v1h-1zM204 666h2v1h-2zM206 665h2v1h-2zM208 664h2v1h-2zM210 663h3v1h-3zM213 662h4v1h-4zM217 661h6v1h-6zM223 662h8v1h-8zM231 661h21v1h-21zM252 660h1v1h-1zM253 659h1v1h-1zM254 658h1v1h-1zM255 657h1v1h-1zM256 656h1v1h-1zM257 655h1v1h-1zM258 654h1v1h-1zM259 653h1v1h-1zM260 652h1v1h-1zM261 651h2v1h-2zM263 650h1v1h-1zM264 649h1v1h-1zM265 648h2v1h-2zM267 647h1v1h-1zM268 646h2v1h-2zM270 645h1v1h-1zM271 644h2v1h-2zM273 643h2v1h-2zM275 642h2v1h-2zM277 641h2v1h-2zM279 640h3v1h-3zM282 639h3v1h-3zM285 638h4v1h-4zM289 637h4v1h-4zM293 636h2v1h-2zM295 635h3v1h-3zM298 634h3v1h-3zM301 635h2v1h-2zM303 636h3v1h-3zM306 637h5v1h-5zM311 638h5v1h-5zM316 639h1v1h-1zM317 640h1v1h-1zM318 641h1v1h-1zM319 642h1v2h-1zM320 644h1v1h-1zM321 645h1v1h-1zM322 646h1v1h-1zM323 647h1v1h-1zM324 648h1v1h-1zM325 649h1v1h-1zM326 650h1v1h-1zM327 651h1v1h-1zM328 652h1v1h-1zM329 653h1v1h-1zM330 654h1v1h-1zM331 655h1v1h-1zM332 656h1v2h-1zM333 658h1v1h-1zM334 659h1v2h-1zM335 661h1v1h-1zM336 662h1v2h-1zM337 664h1v1h-1zM338 665h1v2h-1zM339 667h10v1h-10zM349 668h2v1h-2zM351 669h3v1h-3zM354 670h2v1h-2zM356 671h1v1h-1zM357 672h2v1h-2zM359 673h1v1h-1zM360 674h1v1h-1zM361 675h2v1h-2zM363 676h1v1h-1zM364 677h2v1h-2zM366 678h1v1h-1zM367 679h2v1h-2zM369 680h2v1h-2zM371 681h1v1h-1zM372 682h1v1h-1zM373 683h1v1h-1zM374 684h1v1h-1zM375 685h1v1h-1zM376 686h1v1h-1zM377 687h1v1h-1zM378 688h1v1h-1zM379 689h1v1h-1zM380 688h2v1h-2zM382 687h1v1h-1zM383 686h2v1h-2zM385 685h2v1h-2zM387 684h4v1h-4zM391 685h6v1h-6zM397 684h4v1h-4zM401 683h6v1h-6zM407 682h13v1h-13zM420 681h1v1h-1zM421 680h1v1h-1zM422 679h1v1h-1zM423 678h2v1h-2zM425 677h1v1h-1zM426 676h1v1h-1zM427 675h1v1h-1zM428 674h1v1h-1zM429 673h2v1h-2zM431 672h1v1h-1zM432 671h1v1h-1zM433 670h2v1h-2zM435 669h1v1h-1zM436 668h1v1h-1zM437 667h2v1h-2zM439 666h1v1h-1zM440 665h1v1h-1zM441 664h2v1h-2zM443 663h1v1h-1zM444 661h1v2h-1zM445 659h1v2h-1zM446 658h1v1h-1zM447 656h1v2h-1zM448 655h1v1h-1zM449 653h1v2h-1zM450 651h1v2h-1zM451 650h1v1h-1zM452 648h1v2h-1zM453 646h1v2h-1zM454 645h1v1h-1zM455 643h1v2h-1zM456 642h1v1h-1zM457 640h1v2h-1zM458 638h1v2h-1zM459 637h1v1h-1zM460 636h1v1h-1zM461 635h1v1h-1zM462 634h1v1h-1zM463 632h1v2h-1zM464 631h1v1h-1zM465 630h1v1h-1zM466 629h1v1h-1zM467 628h1v1h-1zM468 626h1v2h-1zM469 624h1v2h-1zM470 622h1v2h-1zM471 620h1v2h-1zM472 618h1v2h-1zM473 616h1v2h-1zM474 614h1v2h-1zM475 613h1v1h-1zM476 612h1v1h-1zM477 610h1v2h-1zM478 609h1v1h-1zM479 608h1v1h-1zM480 607h1v1h-1zM481 605h1v2h-1zM482 604h1v1h-1zM483 603h1v1h-1zM484 602h2v1h-2zM486 601h1v1h-1zM487 600h2v1h-2zM489 599h2v1h-2zM491 598h1v1h-1zM492 596h1v2h-1zM493 595h1v1h-1zM494 593h1v2h-1zM495 592h1v1h-1zM496 590h1v2h-1zM497 589h1v1h-1zM498 587h1v2h-1zM499 586h1v1h-1zM500 585h1v1h-1zM501 584h1v1h-1zM502 583h1v1h-1zM503 582h1v1h-1zM504 581h1v1h-1zM505 580h1v1h-1zM506 579h1v1h-1zM507 578h2v1h-2zM509 577h4v1h-4zM513 576h11v1h-11zM524 575h1v1h-1zM525 574h1v1h-1zM526 573h1v1h-1zM527 572h2v1h-2zM529 571h1v1h-1zM530 570h1v1h-1zM531 569h1v1h-1zM532 568h1v1h-1zM533 567h1v1h-1zM534 566h1v1h-1zM535 565h1v1h-1zM536 564h1v1h-1zM537 563h1v1h-1zM538 562h1v1h-1zM539 561h2v1h-2zM541 560h4v1h-4zM545 559h6v1h-6zM551 560h5v1h-5zM556 561h2v1h-2zM558 562h1v1h-1zM559 563h2v1h-2zM561 564h2v1h-2zM563 565h1v1h-1zM564 564h2v1h-2zM566 563h1v1h-1zM567 562h2v1h-2zM569 561h2v1h-2zM571 560h4v1h-4zM575 559h8v1h-8zM583 560h5v1h-5zM588 561h2v1h-2zM590 562h2v1h-2zM592 563h2v1h-2zM594 564h3v1h-3zM597 565h4v1h-4zM601 566h4v1h-4zM605 567h2v1h-2zM607 568h3v1h-3zM610 569h5v1h-5zM615 568h4v1h-4zM619 567h1v2h-1zM620 565h1v2h-1zM621 563h1v2h-1zM622 561h1v2h-1zM623 559h1v2h-1zM624 557h1v2h-1zM625 555h1v2h-1zM626 553h1v2h-1zM627 551h1v2h-1zM628 551h1v1h-1zM629 550h4v1h-4zM633 549h3v1h-3zM636 548h1v1h-1zM637 547h1v1h-1zM638 546h1v1h-1zM639 544h1v2h-1zM640 543h1v1h-1zM641 542h1v1h-1zM642 541h1v1h-1zM643 540h1v1h-1zM644 538h1v2h-1zM645 537h1v1h-1zM646 535h1v2h-1zM647 534h1v1h-1zM648 532h1v2h-1zM649 531h1v1h-1zM650 529h1v2h-1zM651 528h2v1h-2zM653 527h4v1h-4zM657 526h6v1h-6zM663 525h5v1h-5zM668 524h1v1h-1zM669 523h2v1h-2zM671 522h1v1h-1zM672 521h1v1h-1zM673 520h2v1h-2zM675 519h1v1h-1zM676 517h1v2h-1zM677 516h1v1h-1zM678 514h1v2h-1zM679 513h1v1h-1zM680 511h1v2h-1zM681 510h1v1h-1zM682 508h1v2h-1zM683 506h1v2h-1zM684 503h1v3h-1zM685 499h1v4h-1zM686 496h1v3h-1zM687 493h1v3h-1zM688 490h1v3h-1zM689 486h1v4h-1zM690 483h1v3h-1zM691 481h1v2h-1zM692 480h1v1h-1zM693 479h1v1h-1zM694 478h1v1h-1zM695 477h1v1h-1zM696 476h1v1h-1zM697 475h1v1h-1zM698 474h1v1h-1zM699 473h1v1h-1zM700 472h1v1h-1zM701 471h1v1h-1zM702 470h1v1h-1zM703 468h1v2h-1zM704 467h1v1h-1zM705 466h1v1h-1zM706 465h1v1h-1zM707 463h1v2h-1zM708 461h1v2h-1zM709 459h1v2h-1zM710 457h1v2h-1zM711 455h1v2h-1zM712 453h1v2h-1zM713 451h1v2h-1zM714 449h1v2h-1zM715 447h1v2h-1zM716 446h1v1h-1zM717 444h1v2h-1zM718 443h1v1h-1zM719 442h1v1h-1zM720 441h1v1h-1zM721 439h1v2h-1zM722 438h1v1h-1zM723 437h1v1h-1zM724 436h2v1h-2zM726 435h2v1h-2zM728 434h2v1h-2zM730 433h2v1h-2zM732 432h1v1h-1zM733 431h2v1h-2zM735 430h1v1h-1zM736 429h1v1h-1zM737 428h2v1h-2zM739 427h1v1h-1zM740 426h2v1h-2zM742 425h1v1h-1zM743 424h2v1h-2zM745 423h2v1h-2zM747 422h1v1h-1zM748 421h2v1h-2zM750 420h1v1h-1zM751 419h2v1h-2zM753 418h2v1h-2zM755 417h1v1h-1zM756 416h2v1h-2zM758 415h1v1h-1zM759 414h2v1h-2zM761 413h2v1h-2zM763 412h1v2h-1zM764 414h1v2h-1zM765 416h1v2h-1zM766 418h1v2h-1zM767 420h1v2h-1zM768 422h1v2h-1zM769 424h1v2h-1zM770 426h1v2h-1zM771 428h1v2h-1zM772 430h1v1h-1zM773 431h1v1h-1zM774 432h1v1h-1zM775 433h2v1h-2zM777 434h1v1h-1zM778 435h1v1h-1zM779 436h10v1h-10zM789 435h2v1h-2zM791 434h3v1h-3zM794 433h2v1h-2zM796 431h1v2h-1zM797 430h1v1h-1zM798 428h1v2h-1zM799 427h1v1h-1zM800 425h1v2h-1zM801 424h1v1h-1zM802 422h1v2h-1zM803 421h1v1h-1zM804 420h2v1h-2zM806 419h2v1h-2zM808 418h2v1h-2zM810 417h2v1h-2zM812 416h1v1h-1zM813 415h1v1h-1zM814 414h1v1h-1zM815 412h1v2h-1zM816 411h1v1h-1zM817 410h1v1h-1zM818 409h1v1h-1zM819 408h1v1h-1zM820 406h1v2h-1zM821 405h1v1h-1zM822 403h1v2h-1zM823 402h1v1h-1zM824 400h1v2h-1zM825 399h1v1h-1zM826 397h1v2h-1zM827 396h2v1h-2zM829 395h4v1h-4zM833 394h6v1h-6zM839 393h14v1h-14zM853 392h2v1h-2zM855 391h3v1h-3zM858 390h3v1h-3zM861 389h4v1h-4zM865 388h4v1h-4zM869 387h4v1h-4zM873 386h3v1h-3zM876 387h1v2h-1zM877 389h1v2h-1zM878 391h1v2h-1zM879 393h1v1h-1zM880 394h1v2h-1zM881 396h1v2h-1zM882 398h1v2h-1zM883 400h2v1h-2zM885 401h2v1h-2zM887 402h3v1h-3zM890 403h3v1h-3zM893 404h2v1h-2zM895 405h3v1h-3zM898 406h5v1h-5zM903 405h5v1h-5zM908 404h1v1h-1zM909 403h2v1h-2zM911 402h1v1h-1zM912 401h1v1h-1zM913 400h2v1h-2zM915 399h1v1h-1zM916 398h1v1h-1zM917 396h1v2h-1zM918 395h1v1h-1zM919 394h1v1h-1zM920 393h1v1h-1zM921 391h1v2h-1zM922 390h1v1h-1zM923 389h1v1h-1zM924 388h1v1h-1zM925 387h1v1h-1zM926 386h1v1h-1zM927 385h1v1h-1zM928 384h1v1h-1zM929 383h1v1h-1zM930 382h1v1h-1zM931 381h1v1h-1zM932 380h1v1h-1zM933 379h1v1h-1zM934 378h1v1h-1zM935 377h2v1h-2zM937 376h1v1h-1zM938 375h1v1h-1zM939 374h1v1h-1zM940 372h1v2h-1zM941 371h1v1h-1zM942 369h1v2h-1zM943 368h1v1h-1zM944 366h1v2h-1zM945 365h1v1h-1zM946 363h1v2h-1zM947 362h1v1h-1zM948 361h1v1h-1zM949 359h1v2h-1zM950 358h1v1h-1zM951 357h1v1h-1zM952 356h1v1h-1zM953 354h1v2h-1zM954 353h1v1h-1zM955 352h1v1h-1zM956 351h1v1h-1zM957 349h1v2h-1zM958 348h1v1h-1zM959 347h1v1h-1zM960 346h1v1h-1zM961 344h1v2h-1zM962 343h1v1h-1zM963 342h1v1h-1zM964 341h1v1h-1zM965 340h2v1h-2zM967 339h1v1h-1zM968 338h1v1h-1zM969 337h2v1h-2zM971 336h1v1h-1zM972 335h2v1h-2zM974 334h2v1h-2zM976 333h2v1h-2zM978 332h5v1h-5zM983 331h6v1h-6zM989 332h2v1h-2zM991 333h3v1h-3zM994 334h3v1h-3zM997 333h2v1h-2zM999 332h3v1h-3zM1002 331h3v1h-3zM1005 332h4v1h-4zM1009 333h4v1h-4zM1013 334h4v1h-4zM1017 335h3v1h-3zM1020 336h1v2h-1zM1021 338h1v2h-1zM1022 340h1v2h-1zM1023 342h1v2h-1zM1024 344h1v2h-1zM1025 346h1v2h-1zM1026 348h1v2h-1zM1027 350h1v1h-1zM1028 351h2v1h-2zM1030 352h1v1h-1zM1031 353h2v1h-2zM1033 354h2v1h-2zM1035 355h1v1h-1zM1036 356h2v1h-2zM1038 357h2v1h-2zM1040 358h2v1h-2zM1042 359h2v1h-2zM1044 357h1v2h-1zM1045 355h1v2h-1zM1046 353h1v2h-1zM1047 352h1v1h-1zM1048 350h1v2h-1zM1049 348h1v2h-1zM1050 346h1v2h-1zM1051 345h1v1h-1zM1052 343h1v2h-1zM1053 342h1v1h-1zM1054 340h1v2h-1zM1055 339h1v1h-1zM1056 337h1v2h-1zM1057 336h1v1h-1zM1058 334h1v2h-1zM1059 333h1v1h-1zM1060 332h1v1h-1zM1061 330h1v2h-1zM1062 329h1v1h-1zM1063 328h1v1h-1zM1064 327h1v1h-1zM1065 325h1v2h-1zM1066 324h1v1h-1zM1067 323h1v1h-1zM1068 321h1v2h-1zM1069 319h1v2h-1zM1070 317h1v2h-1zM1071 316h1v1h-1zM1072 314h1v2h-1zM1073 312h1v2h-1zM1074 310h1v2h-1zM1075 309h9v1h-9zM1084 310h2v1h-2zM1086 311h2v1h-2zM1088 312h2v1h-2zM1090 313h2v1h-2zM1092 312h1v1h-1zM1093 311h2v1h-2zM1095 310h1v1h-1zM1096 309h1v1h-1zM1097 308h2v1h-2zM1099 307h1v1h-1zM1100 305h1v2h-1zM1101 303h1v2h-1zM1102 302h1v1h-1zM1103 300h1v2h-1zM1104 299h1v1h-1zM1105 297h1v2h-1zM1106 295h1v2h-1zM1107 294h1v1h-1zM1108 292h1v2h-1zM1109 291h1v1h-1zM1110 290h1v1h-1zM1111 288h1v2h-1zM1112 287h1v1h-1zM1113 286h1v1h-1zM1114 284h1v2h-1zM1115 283h1v1h-1zM1116 284h1v1h-1zM1117 285h1v1h-1zM1118 286h1v1h-1zM1119 287h1v1h-1zM1120 288h1v1h-1zM1121 289h1v1h-1zM1122 290h1v1h-1zM1123 291h9v1h-9zM1132 290h1v1h-1zM1133 289h2v1h-2zM1135 288h1v1h-1zM1136 287h1v1h-1zM1137 286h2v1h-2zM1139 285h1v1h-1zM1140 284h1v1h-1zM1141 283h1v1h-1zM1142 282h1v1h-1zM1143 281h1v1h-1zM1144 280h1v1h-1zM1145 279h1v1h-1zM1146 278h1v1h-1zM1147 277h1v1h-1zM1148 275h1v2h-1zM1149 274h1v1h-1zM1150 272h1v2h-1zM1151 271h1v1h-1zM1152 269h1v2h-1zM1153 268h1v1h-1zM1154 266h1v2h-1zM1155 265h4v1h-4zM1159 264h6v1h-6zM1165 263h2v1h-2zM1167 262h3v1h-3zM1170 261h2v1h-2zM1172 262h2v1h-2zM1174 263h2v1h-2zM1176 264h2v1h-2zM1178 265h1v1h-1zM1179 264h1v2h-1zM1180 262h1v2h-1zM1181 260h1v2h-1zM1182 257h1v3h-1zM1183 255h1v2h-1zM1184 252h1v3h-1zM1185 250h1v2h-1zM1186 248h1v2h-1zM1187 245h1v3h-1zM1188 242h1v3h-1zM1189 238h1v4h-1zM1190 235h1v3h-1zM1191 232h1v3h-1zM1192 229h1v3h-1zM1193 225h1v4h-1zM1194 222h1v3h-1zM1195 220h1v2h-1zM1196 219h1v1h-1zM1197 218h1v1h-1zM1198 217h1v1h-1zM1199 215h1v2h-1zM1200 214h1v1h-1zM1201 213h1v1h-1zM1202 212h1v1h-1zM1203 210h1v2h-1zM1204 208h1v2h-1zM1205 205h1v3h-1zM1206 202h1v3h-1zM1207 200h1v2h-1zM1208 197h1v3h-1zM1209 194h1v3h-1zM1210 192h1v2h-1zM1211 190h1v2h-1zM1212 188h1v2h-1zM1213 187h1v1h-1zM1214 185h1v2h-1zM1215 184h1v1h-1zM1216 182h1v2h-1zM1217 181h1v1h-1zM1218 179h1v2h-1zM1219 178h1v1h-1zM1220 177h1v1h-1zM1221 175h1v2h-1zM1222 174h1v1h-1zM1223 173h1v1h-1zM1224 172h1v1h-1zM1225 170h1v2h-1zM1226 169h1v1h-1zM1227 167h1v2h-1zM1228 165h1v2h-1zM1229 163h1v2h-1zM1230 160h1v3h-1zM1231 158h1v2h-1zM1232 155h1v3h-1zM1233 153h1v2h-1zM1234 151h1v2h-1zM1235 148h1v3h-1zM1236 146h1v2h-1zM1237 144h1v2h-1zM1238 141h1v3h-1zM1239 139h1v2h-1zM1240 136h1v3h-1zM1241 134h1v2h-1zM1242 132h1v2h-1zM1243 130h1v2h-1z" fill="#008000" shape-rendering="crispEdges"/>
<path d="M25 815h4v1h-4zM29 814h2v1h-2zM31 813h3v1h-3zM34 812h3v1h-3zM37 811h4v1h-4zM41 810h14v1h-14zM55 809h5v1h-5zM60 810h1v1h-1zM61 811h1v1h-1zM62 812h1v1h-1zM63 813h1v1h-1zM64 814h1v1h-1zM65 815h1v1h-1zM158 815h1v1h-1zM159 813h1v2h-1zM160 812h1v1h-1zM161 811h1v1h-1zM162 810h1v1h-1zM163 809h2v1h-2zM165 808h2v1h-2zM167 807h3v1h-3zM170 806h2v1h-2zM172 805h1v1h-1zM173 804h1v1h-1zM174 803h1v1h-1zM175 801h1v2h-1zM176 800h1v1h-1zM177 799h1v1h-1zM178 798h1v1h-1zM179 797h1v1h-1zM180 796h1v1h-1zM181 795h1v1h-1zM182 794h1v1h-1zM183 792h1v2h-1zM184 791h1v1h-1zM185 790h1v1h-1zM186 789h1v1h-1zM187 788h1v1h-1zM188 787h1v1h-1zM189 786h1v1h-1zM190 785h1v1h-1zM191 783h1v2h-1zM192 782h1v1h-1zM193 781h1v1h-1zM194 780h1v1h-1zM195 779h1v1h-1zM196 778h2v1h-2zM198 777h1v1h-1zM199 776h2v1h-2zM201 775h2v1h-2zM203 774h1v1h-1zM204 773h2v1h-2zM206 772h2v1h-2zM208 771h2v1h-2zM210 770h5v1h-5zM215 769h16v1h-16zM231 768h21v1h-21zM252 767h1v1h-1zM253 766h1v1h-1zM254 765h1v1h-1zM255 764h1v1h-1zM256 763h1v1h-1zM257 762h1v1h-1zM258 761h1v1h-1zM259 760h1v1h-1zM260 759h2v1h-2zM262 758h1v1h-1zM263 757h2v1h-2zM265 756h2v1h-2zM267 755h1v1h-1zM268 754h2v1h-2zM270 753h1v1h-1zM271 752h2v1h-2zM273 751h2v1h-2zM275 750h2v1h-2zM277 749h2v1h-2zM279 748h3v1h-3zM282 747h3v1h-3zM285 746h4v1h-4zM289 745h4v1h-4zM293 744h2v1h-2zM295 743h3v1h-3zM298 742h2v1h-2zM300 743h2v1h-2zM302 744h2v1h-2zM304 745h2v1h-2zM306 746h5v1h-5zM311 747h5v1h-5zM316 748h1v1h-1zM317 749h1v1h-1zM318 750h1v1h-1zM319 751h1v1h-1zM320 752h1v1h-1zM321 753h1v1h-1zM322 754h1v1h-1zM323 755h1v1h-1zM324 756h1v1h-1zM325 757h1v1h-1zM326 758h1v1h-1zM327 759h1v1h-1zM328 760h1v1h-1zM329 761h1v1h-1zM330 762h1v1h-1zM331 763h1v1h-1zM332 764h1v2h-1zM333 766h1v1h-1zM334 767h1v1h-1zM335 768h1v2h-1zM336 770h1v1h-1zM337 771h1v1h-1zM338 772h1v2h-1zM339 774h10v1h-10zM349 775h2v1h-2zM351 776h3v1h-3zM354 777h2v1h-2zM356 778h2v1h-2zM358 779h1v1h-1zM359 780h2v1h-2zM361 781h2v1h-2zM363 782h1v1h-1zM364 783h1v1h-1zM365 784h2v1h-2zM367 785h1v1h-1zM368 786h1v1h-1zM369 787h2v1h-2zM371 788h1v1h-1zM372 789h1v1h-1zM373 790h1v1h-1zM374 791h1v1h-1zM375 792h2v1h-2zM377 793h1v1h-1zM378 794h1v1h-1zM379 795h1v1h-1zM380 794h2v1h-2zM382 793h1v1h-1zM383 792h2v1h-2zM385 791h2v1h-2zM387 790h4v1h-4zM391 791h6v1h-6zM397 790h4v1h-4zM401 789h6v1h-6zM407 788h13v1h-13zM420 787h1v1h-1zM421 786h2v1h-2zM423 785h1v1h-1zM424 784h1v1h-1zM425 783h2v1h-2zM427 782h1v1h-1zM428 781h1v1h-1zM429 780h2v1h-2zM431 779h1v1h-1zM432 778h1v1h-1zM433 777h2v1h-2zM435 776h1v1h-1zM436 775h2v1h-2zM438 774h1v1h-1zM439 773h2v1h-2zM441 772h2v1h-2zM443 771h1v1h-1zM444 769h1v2h-1zM445 767h1v2h-1zM446 766h1v1h-1zM447 764h1v2h-1zM448 763h1v1h-1zM449 761h1v2h-1zM450 759h1v2h-1zM451 758h1v1h-1zM452 756h1v2h-1zM453 755h1v1h-1zM454 753h1v2h-1zM455 752h1v1h-1zM456 750h1v2h-1zM457 749h1v1h-1zM458 747h1v2h-1zM459 746h1v1h-1zM460 745h1v1h-1zM461 744h1v1h-1zM462 743h1v1h-1zM463 741h1v2h-1zM464 740h1v1h-1zM465 739h1v1h-1zM466 738h1v1h-1zM467 737h1v1h-1zM468 735h1v2h-1zM469 733h1v2h-1zM470 731h1v2h-1zM471 730h1v1h-1zM472 728h1v2h-1zM473 726h1v2h-1zM474 724h1v2h-1zM475 723h1v1h-1zM476 722h1v1h-1zM477 720h1v2h-1zM478 719h1v1h-1zM479 718h1v1h-1zM480 717h1v1h-1zM481 715h1v2h-1zM482 714h1v1h-1zM483 713h1v1h-1zM484 712h2v1h-2zM486 711h1v1h-1zM487 710h2v1h-2zM489 709h2v1h-2zM491 708h1v1h-1zM492 706h1v2h-1zM493 705h1v1h-1zM494 704h1v1h-1zM495 702h1v2h-1zM496 701h1v1h-1zM497 700h1v1h-1zM498 698h1v2h-1zM499 697h1v1h-1zM500 696h1v1h-1zM501 695h1v1h-1zM502 694h1v1h-1zM503 693h2v1h-2zM505 692h1v1h-1zM506 691h1v1h-1zM507 690h2v1h-2zM509 689h4v1h-4zM513 688h11v1h-11zM524 687h1v1h-1zM525 686h1v1h-1zM526 685h1v1h-1zM527 684h2v1h-2zM529 683h1v1h-1zM530 682h1v1h-1zM531 681h1v1h-1zM532 680h1v1h-1zM533 679h1v1h-1zM534 678h1v1h-1zM535 677h1v1h-1zM536 676h1v1h-1zM537 675h1v1h-1zM538 674h1v1h-1zM539 673h2v1h-2zM541 672h4v1h-4zM545 671h4v1h-4zM549 672h4v1h-4zM553 673h3v1h-3zM556 674h2v1h-2zM558 675h2v1h-2zM560 676h2v1h-2zM562 677h2v1h-2zM564 676h2v1h-2zM566 675h1v1h-1zM567 674h2v1h-2zM569 673h2v1h-2zM571 672h4v1h-4zM575 671h8v1h-8zM583 672h5v1h-5zM588 673h2v1h-2zM590 674h2v1h-2zM592 675h2v1h-2zM594 676h3v1h-3zM597 677h4v1h-4zM601 678h4v1h-4zM605 679h4v1h-4zM609 680h11v1h-11zM620 678h1v2h-1zM621 676h1v2h-1zM622 674h1v2h-1zM623 672h1v2h-1zM624 670h1v2h-1zM625 668h1v2h-1zM626 666h1v2h-1zM627 664h1v2h-1zM628 664h1v1h-1zM629 663h4v1h-4zM633 662h3v1h-3zM636 661h1v1h-1zM637 660h1v1h-1zM638 659h1v1h-1zM639 657h1v2h-1zM640 656h1v1h-1zM641 655h1v1h-1zM642 654h1v1h-1zM643 653h1v1h-1zM644 651h1v2h-1zM645 650h1v1h-1zM646 649h1v1h-1zM647 647h1v2h-1zM648 646h1v1h-1zM649 645h1v1h-1zM650 643h1v2h-1zM651 642h2v1h-2zM653 641h2v1h-2zM655 640h3v1h-3zM658 639h10v1h-10zM668 638h1v1h-1zM669 637h2v1h-2zM671 636h1v1h-1zM672 635h1v1h-1zM673 634h2v1h-2zM675 633h1v1h-1zM676 631h1v2h-1zM677 630h1v1h-1zM678 629h1v1h-1zM679 627h1v2h-1zM680 626h1v1h-1zM681 625h1v1h-1zM682 623h1v2h-1zM683 621h1v2h-1zM684 618h1v3h-1zM685 615h1v3h-1zM686 612h1v3h-1zM687 608h1v4h-1zM688 605h1v3h-1zM689 602h1v3h-1zM690 599h1v3h-1zM691 597h1v2h-1zM692 596h1v1h-1zM693 595h1v1h-1zM694 594h1v1h-1zM695 593h2v1h-2zM697 592h1v1h-1zM698 591h1v1h-1zM699 590h1v1h-1zM700 589h1v1h-1zM701 587h1v2h-1zM702 586h1v1h-1zM703 585h1v1h-1zM704 584h1v1h-1zM705 582h1v2h-1zM706 581h1v1h-1zM707 580h1v1h-1zM708 578h1v2h-1zM709 576h1v2h-1zM710 574h1v2h-1zM711 572h1v2h-1zM712 570h1v2h-1zM713 568h1v2h-1zM714 566h1v2h-1zM715 565h1v1h-1zM716 564h1v1h-1zM717 562h1v2h-1zM718 561h1v1h-1zM719 560h1v1h-1zM720 559h1v1h-1zM721 557h1v2h-1zM722 556h1v1h-1zM723 555h1v1h-1zM724 554h2v1h-2zM726 553h2v1h-2zM728 552h2v1h-2zM730 551h2v1h-2zM732 550h2v1h-2zM734 549h1v1h-1zM735 548h2v1h-2zM737 547h2v1h-2zM739 546h1v1h-1zM740 545h2v1h-2zM742 544h1v1h-1zM743 543h2v1h-2zM745 542h2v1h-2zM747 541h1v1h-1zM748 540h2v1h-2zM750 539h1v1h-1zM751 538h2v1h-2zM753 537h2v1h-2zM755 536h1v1h-1zM756 535h2v1h-2zM758 534h2v1h-2zM760 533h2v1h-2zM762 532h2v1h-2zM764 533h1v2h-1zM765 535h1v2h-1zM766 537h1v2h-1zM767 539h1v2h-1zM768 541h1v2h-1zM769 543h1v2h-1zM770 545h1v2h-1zM771 547h1v2h-1zM772 549h1v1h-1zM773 550h2v1h-2zM775 551h1v1h-1zM776 552h1v1h-1zM777 553h2v1h-2zM779 554h4v1h-4zM783 555h6v1h-6zM789 554h2v1h-2zM791 553h3v1h-3zM794 552h2v1h-2zM796 550h1v2h-1zM797 549h1v1h-1zM798 547h1v2h-1zM799 546h1v1h-1zM800 544h1v2h-1zM801 543h1v1h-1zM802 541h1v2h-1zM803 540h1v1h-1zM804 539h2v1h-2zM806 538h2v1h-2zM808 537h2v1h-2zM810 536h2v1h-2zM812 535h1v1h-1zM813 534h1v1h-1zM814 533h1v1h-1zM815 531h1v2h-1zM816 530h1v1h-1zM817 529h1v1h-1zM818 528h1v1h-1zM819 527h1v1h-1zM820 525h1v2h-1zM821 524h1v1h-1zM822 523h1v1h-1zM823 521h1v2h-1zM824 520h1v1h-1zM825 519h1v1h-1zM826 517h1v2h-1zM827 516h2v1h-2zM829 515h4v1h-4zM833 514h14v1h-14zM847 513h6v1h-6zM853 512h2v1h-2zM855 511h3v1h-3zM858 510h3v1h-3zM861 509h4v1h-4zM865 508h4v1h-4zM869 507h4v1h-4zM873 506h3v1h-3zM876 507h1v2h-1zM877 509h1v2h-1zM878 511h1v2h-1zM879 513h1v1h-1zM880 514h1v2h-1zM881 516h1v2h-1zM882 518h1v2h-1zM883 520h2v1h-2zM885 521h4v1h-4zM889 522h3v1h-3zM892 523h2v1h-2zM894 524h2v1h-2zM896 525h2v1h-2zM898 526h5v1h-5zM903 525h5v1h-5zM908 524h1v1h-1zM909 523h2v1h-2zM911 522h1v1h-1zM912 521h1v1h-1zM913 520h2v1h-2zM915 519h1v1h-1zM916 518h1v1h-1zM917 517h1v1h-1zM918 516h1v1h-1zM919 514h1v2h-1zM920 513h1v1h-1zM921 512h1v1h-1zM922 511h1v1h-1zM923 510h1v1h-1zM924 509h1v1h-1zM925 508h1v1h-1zM926 507h1v1h-1zM927 506h1v1h-1zM928 505h1v1h-1zM929 504h1v1h-1zM930 503h1v1h-1zM931 502h1v1h-1zM932 501h1v1h-1zM933 500h1v1h-1zM934 499h1v1h-1zM935 498h2v1h-2zM937 497h1v1h-1zM938 496h1v1h-1zM939 495h1v1h-1zM940 493h1v2h-1zM941 492h1v1h-1zM942 491h1v1h-1zM943 489h1v2h-1zM944 488h1v1h-1zM945 487h1v1h-1zM946 485h1v2h-1zM947 484h1v1h-1zM948 483h1v1h-1zM949 481h1v2h-1zM950 480h1v1h-1zM951 479h1v1h-1zM952 478h1v1h-1zM953 476h1v2h-1zM954 475h1v1h-1zM955 474h1v1h-1zM956 473h1v1h-1zM957 472h1v1h-1zM958 471h1v1h-1zM959 469h1v2h-1zM960 468h1v1h-1zM961 467h1v1h-1zM962 466h1v1h-1zM963 465h1v1h-1zM964 464h1v1h-1zM965 463h2v1h-2zM967 462h1v1h-1zM968 461h1v1h-1zM969 460h2v1h-2zM971 459h1v1h-1zM972 458h2v1h-2zM974 457h2v1h-2zM976 456h2v1h-2zM978 455h5v1h-5zM983 454h6v1h-6zM989 455h2v1h-2zM991 456h3v1h-3zM994 457h3v1h-3zM997 456h2v1h-2zM999 455h3v1h-3zM1002 454h3v1h-3zM1005 455h4v1h-4zM1009 456h4v1h-4zM1013 457h4v1h-4zM1017 458h3v1h-3zM1020 459h1v2h-1zM1021 461h1v2h-1zM1022 463h1v2h-1zM1023 465h1v2h-1zM1024 467h1v2h-1zM1025 469h1v2h-1zM1026 471h1v2h-1zM1027 473h1v1h-1zM1028 474h2v1h-2zM1030 475h2v1h-2zM1032 476h2v1h-2zM1034 477h2v1h-2zM1036 478h2v1h-2zM1038 479h2v1h-2zM1040 480h2v1h-2zM1042 481h2v1h-2zM1044 479h1v2h-1zM1045 477h1v2h-1zM1046 476h1v1h-1zM1047 474h1v2h-1zM1048 473h1v1h-1zM1049 471h1v2h-1zM1050 469h1v2h-1zM1051 468h1v1h-1zM1052 466h1v2h-1zM1053 465h1v1h-1zM1054 463h1v2h-1zM1055 462h1v1h-1zM1056 460h1v2h-1zM1057 459h1v1h-1zM1058 457h1v2h-1zM1059 456h1v1h-1zM1060 455h1v1h-1zM1061 453h1v2h-1zM1062 452h1v1h-1zM1063 451h1v1h-1zM1064 450h1v1h-1zM1065 448h1v2h-1zM1066 447h1v1h-1zM1067 446h1v1h-1zM1068 444h1v2h-1zM1069 442h1v2h-1zM1070 441h1v1h-1zM1071 439h1v2h-1zM1072 438h1v1h-1zM1073 436h1v2h-1zM1074 434h1v2h-1zM1075 433h4v1h-4zM1079 434h6v1h-6zM1085 435h2v1h-2zM1087 436h3v1h-3zM1090 437h2v1h-2zM1092 436h1v1h-1zM1093 435h2v1h-2zM1095 434h1v1h-1zM1096 433h1v1h-1zM1097 432h2v1h-2zM1099 431h1v1h-1zM1100 429h1v2h-1zM1101 428h1v1h-1zM1102 426h1v2h-1zM1103 425h1v1h-1zM1104 423h1v2h-1zM1105 422h1v1h-1zM1106 420h1v2h-1zM1107 419h1v1h-1zM1108 418h1v1h-1zM1109 416h1v2h-1zM1110 415h1v1h-1zM1111 414h1v1h-1zM1112 413h1v1h-1zM1113 411h1v2h-1zM1114 410h1v1h-1zM1115 409h1v1h-1zM1116 410h1v1h-1zM1117 411h1v1h-1zM1118 412h1v1h-1zM1119 413h2v1h-2zM1121 414h1v1h-1zM1122 415h1v1h-1zM1123 416h9v1h-9zM1132 415h1v1h-1zM1133 414h2v1h-2zM1135 413h1v1h-1zM1136 412h1v1h-1zM1137 411h2v1h-2zM1139 410h1v1h-1zM1140 409h1v1h-1zM1141 408h1v1h-1zM1142 407h1v1h-1zM1143 406h2v1h-2zM1145 405h1v1h-1zM1146 404h1v1h-1zM1147 403h1v1h-1zM1148 401h1v2h-1zM1149 400h1v1h-1zM1150 399h1v1h-1zM1151 397h1v2h-1zM1152 396h1v1h-1zM1153 395h1v1h-1zM1154 393h1v2h-1zM1155 392h4v1h-4zM1159 391h6v1h-6zM1165 390h2v1h-2zM1167 389h3v1h-3zM1170 388h3v1h-3zM1173 389h2v1h-2zM1175 390h3v1h-3zM1178 391h1v1h-1zM1179 390h1v2h-1zM1180 388h1v2h-1zM1181 386h1v2h-1zM1182 384h1v2h-1zM1183 382h1v2h-1zM1184 380h1v2h-1zM1185 378h1v2h-1zM1186 376h1v2h-1zM1187 373h1v3h-1zM1188 370h1v3h-1zM1189 367h1v3h-1zM1190 364h1v3h-1zM1191 360h1v4h-1zM1192 357h1v3h-1zM1193 354h1v3h-1zM1194 351h1v3h-1zM1195 349h1v2h-1zM1196 348h1v1h-1zM1197 347h1v1h-1zM1198 346h1v1h-1zM1199 344h1v2h-1zM1200 343h1v1h-1zM1201 342h1v1h-1zM1202 341h1v1h-1zM1203 339h1v2h-1zM1204 337h1v2h-1zM1205 335h1v2h-1zM1206 332h1v3h-1zM1207 330h1v2h-1zM1208 327h1v3h-1zM1209 325h1v2h-1zM1210 323h1v2h-1zM1211 321h1v2h-1zM1212 319h1v2h-1zM1213 317h1v2h-1zM1214 316h1v1h-1zM1215 314h1v2h-1zM1216 313h1v1h-1zM1217 311h1v2h-1zM1218 309h1v2h-1zM1219 308h1v1h-1zM1220 307h1v1h-1zM1221 306h1v1h-1zM1222 305h1v1h-1zM1223 304h1v1h-1zM1224 303h1v1h-1zM1225 302h1v1h-1zM1226 301h1v1h-1zM1227 299h1v2h-1zM1228 297h1v2h-1zM1229 295h1v2h-1zM1230 292h1v3h-1zM1231 290h1v2h-1zM1232 287h1v3h-1zM1233 285h1v2h-1zM1234 283h1v2h-1zM1235 280h1v3h-1zM1236 278h1v2h-1zM1237 276h1v2h-1zM1238 274h1v2h-1zM1239 271h1v3h-1zM1240 269h1v2h-1zM1241 267h1v2h-1zM1242 265h1v2h-1zM1243 263h1v2h-1z" fill="#008000" shape-rendering="crispEdges"/>
<g shape-rendering="crispEdges">
<rect x="3" y="763" width="1" height="21" fill="#000"/>
<rect x="1" y="763" width="5" height="20" fill="#000"/>
<rect x="2" y="764" width="3" height="18" fill="#fff"/>
<rect x="11" y="751" width="1" height="17" fill="#000"/>
<rect x="9" y="752" width="5" height="12" fill="#000"/>
<rect x="10" y="753" width="3" height="10" fill="#fff"/>
<rect x="19" y="740" width="1" height="25" fill="#000"/>
<rect x="17" y="752" width="5" height="10" fill="#000"/>
<rect x="27" y="755" width="1" height="8" fill="#000"/>
<rect x="25" y="757" width="5" height="5" fill="#000"/>
<rect x="26" y="758" width="3" height="3" fill="#fff"/>
<rect x="35" y="754" width="1" height="10" fill="#000"/>
<rect x="33" y="755" width="5" height="3" fill="#000"/>
<rect x="34" y="756" width="3" height="1" fill="#fff"/>
<rect x="43" y="749" width="1" height="16" fill="#000"/>
<rect x="41" y="752" width="5" height="4" fill="#000"/>
<rect x="42" y="753" width="3" height="2" fill="#fff"/>
<rect x="51" y="751" width="1" height="13" fill="#000"/>
<rect x="49" y="752" width="5" height="8" fill="#000"/>
<rect x="59" y="753" width="1" height="22" fill="#000"/>
<rect x="57" y="755" width="5" height="5" fill="#000"/>
<rect x="58" y="756" width="3" height="3" fill="#fff"/>
<rect x="67" y="754" width="1" height="32" fill="#000"/>
<rect x="65" y="755" width="5" height="27" fill="#000"/>
<rect x="75" y="774" width="1" height="9" fill="#000"/>
<rect x="73" y="780" width="5" height="2" fill="#000"/>
<rect x="83" y="774" width="1" height="16" fill="#000"/>
<rect x="81" y="776" width="5" height="7" fill="#000"/>
<rect x="82" y="777" width="3" height="5" fill="#fff"/>
<rect x="91" y="769" width="1" height="8" fill="#000"/>
<rect x="89" y="770" width="5" height="7" fill="#000"/>
<rect x="90" y="771" width="3" height="5" fill="#fff"/>
<rect x="99" y="761" width="1" height="14" fill="#000"/>
<rect x="97" y="762" width="5" height="9" fill="#000"/>
<rect x="98" y="763" width="3" height="7" fill="#fff"/>
<rect x="107" y="760" width="1" height="17" fill="#000"/>
<rect x="105" y="762" width="5" height="2" fill="#000"/>
<rect x="115" y="759" width="1" height="12" fill="#000"/>
<rect x="113" y="763" width="5" height="3" fill="#000"/>
<rect x="123" y="763" width="1" height="10" fill="#000"/>
<rect x="121" y="765" width="5" height="2" fill="#000"/>
<rect x="131" y="762" width="1" height="7" fill="#000"/>
<rect x="129" y="764" width="5" height="4" fill="#000"/>
<rect x="130" y="765" width="3" height="2" fill="#fff"/>
<rect x="139" y="764" width="1" height="15" fill="#000"/>
<rect x="137" y="764" width="5" height="13" fill="#000"/>
<rect x="147" y="766" width="1" height="14" fill="#000"/>
<rect x="145" y="774" width="5" height="3" fill="#000"/>
<rect x="146" y="775" width="3" height="1" fill="#fff"/>
<rect x="155" y="754" width="1" height="25" fill="#000"/>
<rect x="153" y="755" width="5" height="20" fill="#000"/>
<rect x="154" y="756" width="3" height="18" fill="#fff"/>
<rect x="163" y="735" width="1" height="26" fill="#000"/>
<rect x="161" y="740" width="5" height="16" fill="#000"/>
<rect x="162" y="741" width="3" height="14" fill="#fff"/>
<rect x="171" y="740" width="1" height="11" fill="#000"/>
<rect x="169" y="741" width="5" height="6" fill="#000"/>
<rect x="179" y="719" width="1" height="37" fill="#000"/>
<rect x="177" y="725" width="5" height="26" fill="#000"/>
<rect x="178" y="726" width="3" height="24" fill="#fff"/>
<rect x="187" y="714" width="1" height="21" fill="#000"/>
<rect x="185" y="717" width="5" height="9" fill="#000"/>
<rect x="186" y="718" width="3" height="7" fill="#fff"/>
<rect x="195" y="699" width="1" height="26" fill="#000"/>
<rect x="193" y="706" width="5" height="12" fill="#000"/>
<rect x="194" y="707" width="3" height="10" fill="#fff"/>
<rect x="203" y="706" width="1" height="27" fill="#000"/>
<rect x="201" y="706" width="5" height="5" fill="#000"/>
<rect x="211" y="705" width="1" height="13" fill="#000"/>
<rect x="209" y="708" width="5" height="3" fill="#000"/>
<rect x="210" y="709" width="3" height="1" fill="#fff"/>
<rect x="219" y="707" width="1" height="11" fill="#000"/>
<rect x="217" y="708" width="5" height="6" fill="#000"/>
<rect x="227" y="710" width="1" height="14" fill="#000"/>
<rect x="225" y="711" width="5" height="7" fill="#000"/>
<rect x="235" y="708" width="1" height="11" fill="#000"/>
<rect x="233" y="713" width="5" height="5" fill="#000"/>
<rect x="234" y="714" width="3" height="3" fill="#fff"/>
<rect x="243" y="710" width="1" height="10" fill="#000"/>
<rect x="241" y="712" width="5" height="2" fill="#000"/>
<rect x="251" y="709" width="1" height="13" fill="#000"/>
<rect x="249" y="713" width="5" height="2" fill="#000"/>
<rect x="259" y="689" width="1" height="26" fill="#000"/>
<rect x="257" y="691" width="5" height="24" fill="#000"/>
<rect x="258" y="692" width="3" height="22" fill="#fff"/>
<rect x="267" y="685" width="1" height="10" fill="#000"/>
<rect x="265" y="689" width="5" height="3" fill="#000"/>
<rect x="266" y="690" width="3" height="1" fill="#fff"/>
<rect x="275" y="686" width="1" height="8" fill="#000"/>
<rect x="273" y="687" width="5" height="1" fill="#000"/>
<rect x="283" y="685" width="1" height="22" fill="#000"/>
<rect x="281" y="687" width="5" height="1" fill="#000"/>
<rect x="291" y="684" width="1" height="7" fill="#000"/>
<rect x="289" y="687" width="5" height="1" fill="#000"/>
<rect x="299" y="673" width="1" height="16" fill="#000"/>
<rect x="297" y="682" width="5" height="6" fill="#000"/>
<rect x="298" y="683" width="3" height="4" fill="#fff"/>
<rect x="307" y="674" width="1" height="37" fill="#000"/>
<rect x="305" y="682" width="5" height="18" fill="#000"/>
<rect x="315" y="692" width="1" height="9" fill="#000"/>
<rect x="313" y="694" width="5" height="6" fill="#000"/>
<rect x="314" y="695" width="3" height="4" fill="#fff"/>
<rect x="323" y="691" width="1" height="33" fill="#000"/>
<rect x="321" y="695" width="5" height="25" fill="#000"/>
<rect x="331" y="717" width="1" height="18" fill="#000"/>
<rect x="329" y="719" width="5" height="6" fill="#000"/>
<rect x="339" y="722" width="1" height="25" fill="#000"/>
<rect x="337" y="724" width="5" height="20" fill="#000"/>
<rect x="347" y="720" width="1" height="48" fill="#000"/>
<rect x="345" y="722" width="5" height="22" fill="#000"/>
<rect x="346" y="723" width="3" height="20" fill="#fff"/>
<rect x="355" y="718" width="1" height="20" fill="#000"/>
<rect x="353" y="722" width="5" height="7" fill="#000"/>
<rect x="363" y="711" width="1" height="56" fill="#000"/>
<rect x="361" y="728" width="5" height="13" fill="#000"/>
<rect x="371" y="730" width="1" height="21" fill="#000"/>
<rect x="369" y="742" width="5" height="5" fill="#000"/>
<rect x="379" y="736" width="1" height="24" fill="#000"/>
<rect x="377" y="746" width="5" height="12" fill="#000"/>
<rect x="387" y="724" width="1" height="42" fill="#000"/>
<rect x="385" y="728" width="5" height="31" fill="#000"/>
<rect x="386" y="729" width="3" height="29" fill="#fff"/>
<rect x="395" y="726" width="1" height="26" fill="#000"/>
<rect x="393" y="728" width="5" height="11" fill="#000"/>
<rect x="403" y="731" width="1" height="15" fill="#000"/>
<rect x="401" y="733" width="5" height="6" fill="#000"/>
<rect x="402" y="734" width="3" height="4" fill="#fff"/>
<rect x="411" y="731" width="1" height="4" fill="#000"/>
<rect x="409" y="732" width="5" height="2" fill="#000"/>
<rect x="419" y="728" width="1" height="14" fill="#000"/>
<rect x="417" y="732" width="5" height="5" fill="#000"/>
<rect x="427" y="703" width="1" height="33" fill="#000"/>
<rect x="425" y="714" width="5" height="23" fill="#000"/>
<rect x="426" y="715" width="3" height="21" fill="#fff"/>
<rect x="435" y="708" width="1" height="18" fill="#000"/>
<rect x="433" y="711" width="5" height="3" fill="#000"/>
<rect x="434" y="712" width="3" height="1" fill="#fff"/>
<rect x="443" y="706" width="1" height="20" fill="#000"/>
<rect x="441" y="706" width="5" height="6" fill="#000"/>
<rect x="442" y="707" width="3" height="4" fill="#fff"/>
<rect x="451" y="676" width="1" height="32" fill="#000"/>
<rect x="449" y="677" width="5" height="31" fill="#000"/>
<rect x="450" y="678" width="3" height="29" fill="#fff"/>
<rect x="459" y="664" width="1" height="15" fill="#000"/>
<rect x="457" y="667" width="5" height="11" fill="#000"/>
<rect x="458" y="668" width="3" height="9" fill="#fff"/>
<rect x="467" y="660" width="1" height="12" fill="#000"/>
<rect x="465" y="664" width="5" height="6" fill="#000"/>
<rect x="466" y="665" width="3" height="4" fill="#fff"/>
<rect x="475" y="638" width="1" height="30" fill="#000"/>
<rect x="473" y="639" width="5" height="26" fill="#000"/>
<rect x="474" y="640" width="3" height="24" fill="#fff"/>
<rect x="483" y="633" width="1" height="16" fill="#000"/>
<rect x="481" y="637" width="5" height="3" fill="#000"/>
<rect x="482" y="638" width="3" height="1" fill="#fff"/>
<rect x="491" y="631" width="1" height="24" fill="#000"/>
<rect x="489" y="637" width="5" height="8" fill="#000"/>
<rect x="499" y="618" width="1" height="28" fill="#000"/>
<rect x="497" y="619" width="5" height="26" fill="#000"/>
<rect x="498" y="620" width="3" height="24" fill="#fff"/>
<rect x="507" y="615" width="1" height="6" fill="#000"/>
<rect x="505" y="618" width="5" height="2" fill="#000"/>
<rect x="515" y="617" width="1" height="14" fill="#000"/>
<rect x="513" y="621" width="5" height="8" fill="#000"/>
<rect x="523" y="615" width="1" height="26" fill="#000"/>
<rect x="521" y="628" width="5" height="5" fill="#000"/>
<rect x="531" y="609" width="1" height="30" fill="#000"/>
<rect x="529" y="610" width="5" height="23" fill="#000"/>
<rect x="530" y="611" width="3" height="21" fill="#fff"/>
<rect x="539" y="597" width="1" height="16" fill="#000"/>
<rect x="537" y="602" width="5" height="9" fill="#000"/>
<rect x="538" y="603" width="3" height="7" fill="#fff"/>
<rect x="547" y="600" width="1" height="18" fill="#000"/>
<rect x="545" y="602" width="5" height="9" fill="#000"/>
<rect x="555" y="607" width="1" height="23" fill="#000"/>
<rect x="553" y="610" width="5" height="11" fill="#000"/>
<rect x="563" y="614" width="1" height="20" fill="#000"/>
<rect x="561" y="619" width="5" height="13" fill="#000"/>
<rect x="571" y="606" width="1" height="34" fill="#000"/>
<rect x="569" y="606" width="5" height="26" fill="#000"/>
<rect x="570" y="607" width="3" height="24" fill="#fff"/>
<rect x="579" y="606" width="1" height="13" fill="#000"/>
<rect x="577" y="607" width="5" height="6" fill="#000"/>
<rect x="587" y="605" width="1" height="25" fill="#000"/>
<rect x="585" y="612" width="5" height="7" fill="#000"/>
<rect x="595" y="612" width="1" height="22" fill="#000"/>
<rect x="593" y="618" width="5" height="12" fill="#000"/>
<rect x="603" y="625" width="1" height="14" fill="#000"/>
<rect x="601" y="626" width="5" height="4" fill="#000"/>
<rect x="602" y="627" width="3" height="2" fill="#fff"/>
<rect x="611" y="623" width="1" height="10" fill="#000"/>
<rect x="609" y="625" width="5" height="5" fill="#000"/>
<rect x="619" y="622" width="1" height="12" fill="#000"/>
<rect x="617" y="623" width="5" height="7" fill="#000"/>
<rect x="618" y="624" width="3" height="5" fill="#fff"/>
<rect x="627" y="571" width="1" height="54" fill="#000"/>
<rect x="625" y="574" width="5" height="50" fill="#000"/>
<rect x="626" y="575" width="3" height="48" fill="#fff"/>
<rect x="635" y="566" width="1" height="46" fill="#000"/>
<rect x="633" y="574" width="5" height="29" fill="#000"/>
<rect x="643" y="575" width="1" height="31" fill="#000"/>
<rect x="641" y="579" width="5" height="24" fill="#000"/>
<rect x="642" y="580" width="3" height="22" fill="#fff"/>
<rect x="651" y="558" width="1" height="27" fill="#000"/>
<rect x="649" y="561" width="5" height="19" fill="#000"/>
<rect x="650" y="562" width="3" height="17" fill="#fff"/>
<rect x="659" y="562" width="1" height="29" fill="#000"/>
<rect x="657" y="563" width="5" height="16" fill="#000"/>
<rect x="667" y="575" width="1" height="17" fill="#000"/>
<rect x="665" y="578" width="5" height="3" fill="#000"/>
<rect x="675" y="559" width="1" height="23" fill="#000"/>
<rect x="673" y="564" width="5" height="17" fill="#000"/>
<rect x="674" y="565" width="3" height="15" fill="#fff"/>
<rect x="683" y="540" width="1" height="39" fill="#000"/>
<rect x="681" y="541" width="5" height="24" fill="#000"/>
<rect x="682" y="542" width="3" height="22" fill="#fff"/>
<rect x="691" y="486" width="1" height="58" fill="#000"/>
<rect x="689" y="488" width="5" height="54" fill="#000"/>
<rect x="690" y="489" width="3" height="52" fill="#fff"/>
<rect x="699" y="487" width="1" height="33" fill="#000"/>
<rect x="697" y="488" width="5" height="30" fill="#000"/>
<rect x="707" y="488" width="1" height="36" fill="#000"/>
<rect x="705" y="503" width="5" height="8" fill="#000"/>
<rect x="706" y="504" width="3" height="6" fill="#fff"/>
<rect x="715" y="460" width="1" height="49" fill="#000"/>
<rect x="713" y="474" width="5" height="30" fill="#000"/>
<rect x="714" y="475" width="3" height="28" fill="#fff"/>
<rect x="723" y="459" width="1" height="31" fill="#000"/>
<rect x="721" y="474" width="5" height="2" fill="#000"/>
<rect x="731" y="465" width="1" height="31" fill="#000"/>
<rect x="729" y="475" width="5" height="11" fill="#000"/>
<rect x="739" y="463" width="1" height="25" fill="#000"/>
<rect x="737" y="475" width="5" height="11" fill="#000"/>
<rect x="738" y="476" width="3" height="9" fill="#fff"/>
<rect x="747" y="471" width="1" height="12" fill="#000"/>
<rect x="745" y="472" width="5" height="4" fill="#000"/>
<rect x="746" y="473" width="3" height="2" fill="#fff"/>
<rect x="755" y="464" width="1" height="20" fill="#000"/>
<rect x="753" y="466" width="5" height="8" fill="#000"/>
<rect x="754" y="467" width="3" height="6" fill="#fff"/>
<rect x="763" y="460" width="1" height="21" fill="#000"/>
<rect x="761" y="463" width="5" height="4" fill="#000"/>
<rect x="762" y="464" width="3" height="2" fill="#fff"/>
<rect x="771" y="460" width="1" height="70" fill="#000"/>
<rect x="769" y="463" width="5" height="59" fill="#000"/>
<rect x="779" y="503" width="1" height="20" fill="#000"/>
<rect x="777" y="509" width="5" height="13" fill="#000"/>
<rect x="778" y="510" width="3" height="11" fill="#fff"/>
<rect x="787" y="479" width="1" height="32" fill="#000"/>
<rect x="785" y="496" width="5" height="14" fill="#000"/>
<rect x="786" y="497" width="3" height="12" fill="#fff"/>
<rect x="795" y="483" width="1" height="19" fill="#000"/>
<rect x="793" y="487" width="5" height="11" fill="#000"/>
<rect x="794" y="488" width="3" height="9" fill="#fff"/>
<rect x="803" y="457" width="1" height="33" fill="#000"/>
<rect x="801" y="457" width="5" height="30" fill="#000"/>
<rect x="802" y="458" width="3" height="28" fill="#fff"/>
<rect x="811" y="441" width="1" height="36" fill="#000"/>
<rect x="809" y="457" width="5" height="12" fill="#000"/>
<rect x="819" y="444" width="1" height="42" fill="#000"/>
<rect x="817" y="450" width="5" height="19" fill="#000"/>
<rect x="818" y="451" width="3" height="17" fill="#fff"/>
<rect x="827" y="429" width="1" height="36" fill="#000"/>
<rect x="825" y="433" width="5" height="18" fill="#000"/>
<rect x="826" y="434" width="3" height="16" fill="#fff"/>
<rect x="835" y="426" width="1" height="31" fill="#000"/>
<rect x="833" y="434" width="5" height="17" fill="#000"/>
<rect x="843" y="443" width="1" height="16" fill="#000"/>
<rect x="841" y="450" width="5" height="3" fill="#000"/>
<rect x="851" y="444" width="1" height="28" fill="#000"/>
<rect x="849" y="447" width="5" height="7" fill="#000"/>
<rect x="859" y="442" width="1" height="20" fill="#000"/>
<rect x="857" y="444" width="5" height="10" fill="#000"/>
<rect x="858" y="445" width="3" height="8" fill="#fff"/>
<rect x="867" y="441" width="1" height="15" fill="#000"/>
<rect x="865" y="444" width="5" height="1" fill="#000"/>
<rect x="875" y="415" width="1" height="36" fill="#000"/>
<rect x="873" y="442" width="5" height="3" fill="#000"/>
<rect x="874" y="443" width="3" height="1" fill="#fff"/>
<rect x="883" y="441" width="1" height="83" fill="#000"/>
<rect x="881" y="442" width="5" height="46" fill="#000"/>
<rect x="891" y="468" width="1" height="21" fill="#000"/>
<rect x="889" y="468" width="5" height="20" fill="#000"/>
<rect x="890" y="469" width="3" height="18" fill="#fff"/>
<rect x="899" y="470" width="1" height="18" fill="#000"/>
<rect x="897" y="472" width="5" height="2" fill="#000"/>
<rect x="907" y="457" width="1" height="30" fill="#000"/>
<rect x="905" y="462" width="5" height="13" fill="#000"/>
<rect x="906" y="463" width="3" height="11" fill="#fff"/>
<rect x="915" y="446" width="1" height="22" fill="#000"/>
<rect x="913" y="448" width="5" height="15" fill="#000"/>
<rect x="914" y="449" width="3" height="13" fill="#fff"/>
<rect x="923" y="424" width="1" height="33" fill="#000"/>
<rect x="921" y="430" width="5" height="19" fill="#000"/>
<rect x="922" y="431" width="3" height="17" fill="#fff"/>
<rect x="931" y="399" width="1" height="49" fill="#000"/>
<rect x="929" y="427" width="5" height="4" fill="#000"/>
<rect x="930" y="428" width="3" height="2" fill="#fff"/>
<rect x="939" y="412" width="1" height="17" fill="#000"/>
<rect x="937" y="419" width="5" height="6" fill="#000"/>
<rect x="938" y="420" width="3" height="4" fill="#fff"/>
<rect x="947" y="400" width="1" height="24" fill="#000"/>
<rect x="945" y="401" width="5" height="18" fill="#000"/>
<rect x="946" y="402" width="3" height="16" fill="#fff"/>
<rect x="955" y="385" width="1" height="22" fill="#000"/>
<rect x="953" y="392" width="5" height="9" fill="#000"/>
<rect x="954" y="393" width="3" height="7" fill="#fff"/>
<rect x="963" y="379" width="1" height="17" fill="#000"/>
<rect x="961" y="386" width="5" height="7" fill="#000"/>
<rect x="962" y="387" width="3" height="5" fill="#fff"/>
<rect x="971" y="382" width="1" height="33" fill="#000"/>
<rect x="969" y="385" width="5" height="2" fill="#000"/>
<rect x="979" y="378" width="1" height="23" fill="#000"/>
<rect x="977" y="385" width="5" height="1" fill="#000"/>
<rect x="987" y="380" width="1" height="13" fill="#000"/>
<rect x="985" y="385" width="5" height="7" fill="#000"/>
<rect x="995" y="386" width="1" height="20" fill="#000"/>
<rect x="993" y="391" width="5" height="11" fill="#000"/>
<rect x="1003" y="385" width="1" height="18" fill="#000"/>
<rect x="1001" y="387" width="5" height="15" fill="#000"/>
<rect x="1002" y="388" width="3" height="13" fill="#fff"/>
<rect x="1011" y="387" width="1" height="45" fill="#000"/>
<rect x="1009" y="387" width="5" height="12" fill="#000"/>
<rect x="1019" y="385" width="1" height="21" fill="#000"/>
<rect x="1017" y="398" width="5" height="4" fill="#000"/>
<rect x="1027" y="401" width="1" height="52" fill="#000"/>
<rect x="1025" y="401" width="5" height="41" fill="#000"/>
<rect x="1035" y="424" width="1" height="23" fill="#000"/>
<rect x="1033" y="426" width="5" height="16" fill="#000"/>
<rect x="1034" y="427" width="3" height="14" fill="#fff"/>
<rect x="1043" y="417" width="1" height="15" fill="#000"/>
<rect x="1041" y="426" width="5" height="3" fill="#000"/>
<rect x="1051" y="370" width="1" height="60" fill="#000"/>
<rect x="1049" y="380" width="5" height="50" fill="#000"/>
<rect x="1050" y="381" width="3" height="48" fill="#fff"/>
<rect x="1059" y="366" width="1" height="32" fill="#000"/>
<rect x="1057" y="369" width="5" height="12" fill="#000"/>
<rect x="1058" y="370" width="3" height="10" fill="#fff"/>
<rect x="1067" y="362" width="1" height="18" fill="#000"/>
<rect x="1065" y="365" width="5" height="5" fill="#000"/>
<rect x="1066" y="366" width="3" height="3" fill="#fff"/>
<rect x="1075" y="339" width="1" height="37" fill="#000"/>
<rect x="1073" y="344" width="5" height="23" fill="#000"/>
<rect x="1074" y="345" width="3" height="21" fill="#fff"/>
<rect x="1083" y="341" width="1" height="40" fill="#000"/>
<rect x="1081" y="343" width="5" height="30" fill="#000"/>
<rect x="1091" y="361" width="1" height="42" fill="#000"/>
<rect x="1089" y="375" width="5" height="8" fill="#000"/>
<rect x="1099" y="353" width="1" height="36" fill="#000"/>
<rect x="1097" y="357" width="5" height="26" fill="#000"/>
<rect x="1098" y="358" width="3" height="24" fill="#fff"/>
<rect x="1107" y="332" width="1" height="48" fill="#000"/>
<rect x="1105" y="332" width="5" height="26" fill="#000"/>
<rect x="1106" y="333" width="3" height="24" fill="#fff"/>
<rect x="1115" y="253" width="1" height="83" fill="#000"/>
<rect x="1113" y="324" width="5" height="10" fill="#000"/>
<rect x="1114" y="325" width="3" height="8" fill="#fff"/>
<rect x="1123" y="246" width="1" height="151" fill="#000"/>
<rect x="1121" y="323" width="5" height="48" fill="#000"/>
<rect x="1131" y="323" width="1" height="65" fill="#000"/>
<rect x="1129" y="353" width="5" height="19" fill="#000"/>
<rect x="1130" y="354" width="3" height="17" fill="#fff"/>
<rect x="1139" y="326" width="1" height="67" fill="#000"/>
<rect x="1137" y="335" width="5" height="30" fill="#000"/>
<rect x="1138" y="336" width="3" height="28" fill="#fff"/>
<rect x="1147" y="317" width="1" height="55" fill="#000"/>
<rect x="1145" y="324" width="5" height="12" fill="#000"/>
<rect x="1146" y="325" width="3" height="10" fill="#fff"/>
<rect x="1155" y="258" width="1" height="71" fill="#000"/>
<rect x="1153" y="307" width="5" height="18" fill="#000"/>
<rect x="1154" y="308" width="3" height="16" fill="#fff"/>
<rect x="1163" y="281" width="1" height="52" fill="#000"/>
<rect x="1161" y="307" width="5" height="19" fill="#000"/>
<rect x="1171" y="279" width="1" height="57" fill="#000"/>
<rect x="1169" y="319" width="5" height="6" fill="#000"/>
<rect x="1170" y="320" width="3" height="4" fill="#fff"/>
<rect x="1179" y="302" width="1" height="34" fill="#000"/>
<rect x="1177" y="317" width="5" height="19" fill="#000"/>
<rect x="1187" y="269" width="1" height="113" fill="#000"/>
<rect x="1185" y="274" width="5" height="108" fill="#000"/>
<rect x="1186" y="275" width="3" height="106" fill="#fff"/>
<rect x="1195" y="229" width="1" height="54" fill="#000"/>
<rect x="1193" y="234" width="5" height="41" fill="#000"/>
<rect x="1194" y="235" width="3" height="39" fill="#fff"/>
<rect x="1203" y="228" width="1" height="45" fill="#000"/>
<rect x="1201" y="234" width="5" height="23" fill="#000"/>
<rect x="1211" y="216" width="1" height="125" fill="#000"/>
<rect x="1209" y="216" width="5" height="41" fill="#000"/>
<rect x="1210" y="217" width="3" height="39" fill="#fff"/>
<rect x="1219" y="209" width="1" height="35" fill="#000"/>
<rect x="1217" y="216" width="5" height="3" fill="#000"/>
<rect x="1227" y="197" width="1" height="40" fill="#000"/>
<rect x="1225" y="216" width="5" height="3" fill="#000"/>
<rect x="1226" y="217" width="3" height="1" fill="#fff"/>
<rect x="1235" y="172" width="1" height="64" fill="#000"/>
<rect x="1233" y="178" width="5" height="31" fill="#000"/>
<rect x="1234" y="179" width="3" height="29" fill="#fff"/>
<rect x="1243" y="142" width="1" height="38" fill="#000"/>
<rect x="1241" y="160" width="5" height="18" fill="#000"/>
<rect x="1242" y="161" width="3" height="16" fill="#fff"/>
</g>
</g>
<text x="1294" y="235" font-size="20" fill="#4169e1">51,41- 52 Bölgesi</text>
<text x="1278" y="798.5" font-size="19.6" fill="#4169e1">5 Periyotluk Üstel Envelopes</text>
<g shape-rendering="crispEdges">
<rect x="1170.5" y="65.5" width="63" height="24" fill="#fff" stroke="#ff0000" stroke-width="1"/>
<line x1="1234" y1="77.5" x2="1244" y2="77.5" stroke="#ff0000" stroke-width="1"/>
<rect x="1170.5" y="119.5" width="63" height="24" fill="#fff" stroke="#008000" stroke-width="1"/>
<line x1="1234" y1="131.5" x2="1244" y2="131.5" stroke="#008000" stroke-width="1"/>
</g>
<text x="1172.5" y="85" font-size="21" fill="#ff0000" textLength="59.5" lengthAdjust="spacingAndGlyphs" stroke="#ff0000" stroke-width="0.25">54.670</text>
<text x="1172.5" y="139" font-size="21" fill="#008000" textLength="59.5" lengthAdjust="spacingAndGlyphs" stroke="#008000" stroke-width="0.25">53.610</text>
<g shape-rendering="crispEdges">
<rect x="1558" y="14" width="2" height="1" fill="#000"/>
<rect x="1558" y="63" width="2" height="1" fill="#000"/>
<rect x="1558" y="112" width="2" height="1" fill="#000"/>
<rect x="1558" y="160" width="2" height="1" fill="#000"/>
<rect x="1558" y="209" width="2" height="1" fill="#000"/>
<rect x="1558" y="258" width="2" height="1" fill="#000"/>
<rect x="1558" y="307" width="2" height="1" fill="#000"/>
<rect x="1558" y="356" width="2" height="1" fill="#000"/>
<rect x="1558" y="405" width="2" height="1" fill="#000"/>
<rect x="1558" y="454" width="2" height="1" fill="#000"/>
<rect x="1558" y="503" width="2" height="1" fill="#000"/>
<rect x="1558" y="552" width="2" height="1" fill="#000"/>
<rect x="1558" y="601" width="2" height="1" fill="#000"/>
<rect x="1558" y="650" width="2" height="1" fill="#000"/>
<rect x="1558" y="699" width="2" height="1" fill="#000"/>
<rect x="1558" y="748" width="2" height="1" fill="#000"/>
<rect x="1558" y="797" width="2" height="1" fill="#000"/>
</g>
<g shape-rendering="crispEdges">
<rect x="1556" y="3" width="3" height="397" fill="#ff0000"/>
<rect x="2" y="2" width="1556" height="1" fill="#000"/>
<rect x="2" y="2" width="1" height="815" fill="#000"/>
<rect x="1557" y="2" width="1" height="815" fill="#000"/>
<rect x="2" y="816" width="1556" height="1" fill="#000"/>
<rect x="3" y="817" width="1" height="3" fill="#000"/>
<rect x="99" y="817" width="1" height="3" fill="#000"/>
<rect x="195" y="817" width="1" height="3" fill="#000"/>
<rect x="291" y="817" width="1" height="3" fill="#000"/>
<rect x="387" y="817" width="1" height="3" fill="#000"/>
<rect x="483" y="817" width="1" height="3" fill="#000"/>
<rect x="579" y="817" width="1" height="3" fill="#000"/>
<rect x="675" y="817" width="1" height="3" fill="#000"/>
<rect x="771" y="817" width="1" height="3" fill="#000"/>
<rect x="867" y="817" width="1" height="3" fill="#000"/>
<rect x="963" y="817" width="1" height="3" fill="#000"/>
<rect x="1059" y="817" width="1" height="3" fill="#000"/>
<rect x="1155" y="817" width="1" height="3" fill="#000"/>
</g>
<text x="2" y="832" font-size="12.5" fill="#000">8 Sep 2025</text>
<text x="98" y="832" font-size="12.5" fill="#000">10 Sep 09:01</text>
<text x="194" y="832" font-size="12.5" fill="#000">12 Sep 09:01</text>
<text x="290" y="832" font-size="12.5" fill="#000">16 Sep 09:01</text>
<text x="386" y="832" font-size="12.5" fill="#000">18 Sep 09:01</text>
<text x="482" y="832" font-size="12.5" fill="#000">22 Sep 09:01</text>
<text x="578" y="832" font-size="12.5" fill="#000">24 Sep 09:01</text>
<text x="674" y="832" font-size="12.5" fill="#000">26 Sep 09:01</text>
<text x="770" y="832" font-size="12.5" fill="#000">30 Sep 09:01</text>
<text x="866" y="832" font-size="12.5" fill="#000">2 Oct 09:01</text>
<text x="962" y="832" font-size="12.5" fill="#000">6 Oct 09:01</text>
<text x="1058" y="832" font-size="12.5" fill="#000">8 Oct 09:01</text>
<text x="1154" y="832" font-size="12.5" fill="#000">10 Oct 09:01</text>
<text x="1564" y="18" font-size="12.6" fill="#000">55.910</text>
<text x="1564" y="68" font-size="12.6" fill="#000">54.950</text>
<text x="1564" y="117" font-size="12.6" fill="#000">53.990</text>
<text x="1564" y="165" font-size="12.6" fill="#000">53.030</text>
<text x="1564" y="214" font-size="12.6" fill="#000">52.070</text>
<text x="1564" y="263" font-size="12.6" fill="#000">51.110</text>
<text x="1564" y="312" font-size="12.6" fill="#000">50.150</text>
<text x="1564" y="361" font-size="12.6" fill="#000">49.190</text>
<text x="1564" y="410" font-size="12.6" fill="#000">48.230</text>
<text x="1564" y="459" font-size="12.6" fill="#000">47.270</text>
<text x="1564" y="508" font-size="12.6" fill="#000">46.295</text>
<text x="1564" y="557" font-size="12.6" fill="#000">45.335</text>
<text x="1564" y="606" font-size="12.6" fill="#000">44.375</text>
<text x="1564" y="655" font-size="12.6" fill="#000">43.415</text>
<text x="1564" y="704" font-size="12.6" fill="#000">42.455</text>
<text x="1564" y="753" font-size="12.6" fill="#000">41.480</text>
<text x="1564" y="802" font-size="12.6" fill="#000">40.520</text>
<rect x="1559" y="3" width="49" height="14" fill="#4169e1" shape-rendering="crispEdges"/>
<text x="1564" y="15" font-size="12.6" fill="#fff">56.000</text>
<rect x="1559" y="54" width="49" height="14" fill="#4169e1" shape-rendering="crispEdges"/>
<text x="1564" y="66" font-size="12.6" fill="#fff">55.000</text>
<rect x="1559" y="105" width="49" height="14" fill="#4169e1" shape-rendering="crispEdges"/>
<text x="1564" y="117" font-size="12.6" fill="#fff">54.000</text>
<rect x="1559" y="136" width="49" height="14" fill="#4169e1" shape-rendering="crispEdges"/>
<text x="1564" y="148" font-size="12.6" fill="#fff">53.400</text>
<rect x="1559" y="283" width="49" height="14" fill="#4169e1" shape-rendering="crispEdges"/>
<text x="1564" y="295" font-size="12.6" fill="#fff">50.500</text>
<rect x="1559" y="336" width="49" height="14" fill="#4169e1" shape-rendering="crispEdges"/>
<text x="1564" y="348" font-size="12.6" fill="#fff">49.470</text>
<rect x="1559" y="375" width="49" height="14" fill="#4169e1" shape-rendering="crispEdges"/>
<text x="1564" y="387" font-size="12.6" fill="#fff">48.690</text>
<rect x="1559" y="397" width="49" height="14" fill="#4169e1" shape-rendering="crispEdges"/>
<text x="1564" y="409" font-size="12.6" fill="#fff">48.260</text>
<rect x="1559" y="446" width="49" height="14" fill="#4169e1" shape-rendering="crispEdges"/>
<text x="1564" y="458" font-size="12.6" fill="#fff">47.310</text>
<rect x="1559" y="481" width="49" height="14" fill="#4169e1" shape-rendering="crispEdges"/>
<text x="1564" y="493" font-size="12.6" fill="#fff">46.620</text>
<rect x="1559" y="517" width="49" height="14" fill="#4169e1" shape-rendering="crispEdges"/>
<text x="1564" y="529" font-size="12.6" fill="#fff">45.900</text>
<rect x="1559" y="552" width="49" height="14" fill="#4169e1" shape-rendering="crispEdges"/>
<text x="1564" y="564" font-size="12.6" fill="#fff">45.220</text>
<rect x="1559" y="591" width="49" height="14" fill="#4169e1" shape-rendering="crispEdges"/>
<text x="1564" y="603" font-size="12.6" fill="#fff">44.450</text>
<rect x="1559" y="626" width="49" height="14" fill="#4169e1" shape-rendering="crispEdges"/>
<text x="1564" y="638" font-size="12.6" fill="#fff">43.770</text>
<rect x="1559" y="640" width="49" height="14" fill="#4169e1" shape-rendering="crispEdges"/>
<text x="1564" y="652" font-size="12.6" fill="#fff">43.500</text>
<rect x="1559" y="668" width="49" height="14" fill="#4169e1" shape-rendering="crispEdges"/>
<text x="1564" y="680" font-size="12.6" fill="#fff">42.950</text>
<rect x="1559" y="693" width="49" height="14" fill="#4169e1" shape-rendering="crispEdges"/>
<text x="1564" y="705" font-size="12.6" fill="#fff">42.450</text>
<rect x="1559" y="734" width="49" height="14" fill="#4169e1" shape-rendering="crispEdges"/>
<text x="1564" y="746" font-size="12.6" fill="#fff">41.650</text>
<rect x="1559" y="758" width="49" height="14" fill="#4169e1" shape-rendering="crispEdges"/>
<text x="1564" y="770" font-size="12.6" fill="#fff">41.170</text>
<rect x="1559" y="809" width="49" height="14" fill="#4169e1" shape-rendering="crispEdges"/>
<text x="1564" y="821" font-size="12.6" fill="#fff">40.160</text>
<rect x="1559" y="153" width="49" height="14" fill="#000" shape-rendering="crispEdges"/>
<text x="1564" y="165" font-size="12.6" fill="#fff">53.044</text>
<path d="M5.5 9.3 L15.3 9.3 L10.4 14.9 Z" fill="#000"/>
<text x="21" y="17" font-size="12.5" fill="#000" textLength="57" lengthAdjust="spacingAndGlyphs">SILVER,H4</text>
<text x="87" y="17" font-size="12.5" fill="#000">52.703</text>
<text x="130" y="17" font-size="12.5" fill="#000">53.400</text>
<text x="173" y="17" font-size="12.5" fill="#000">52.669</text>
<text x="216" y="17" font-size="12.5" fill="#000">53.044</text>
</svg></body></html>
